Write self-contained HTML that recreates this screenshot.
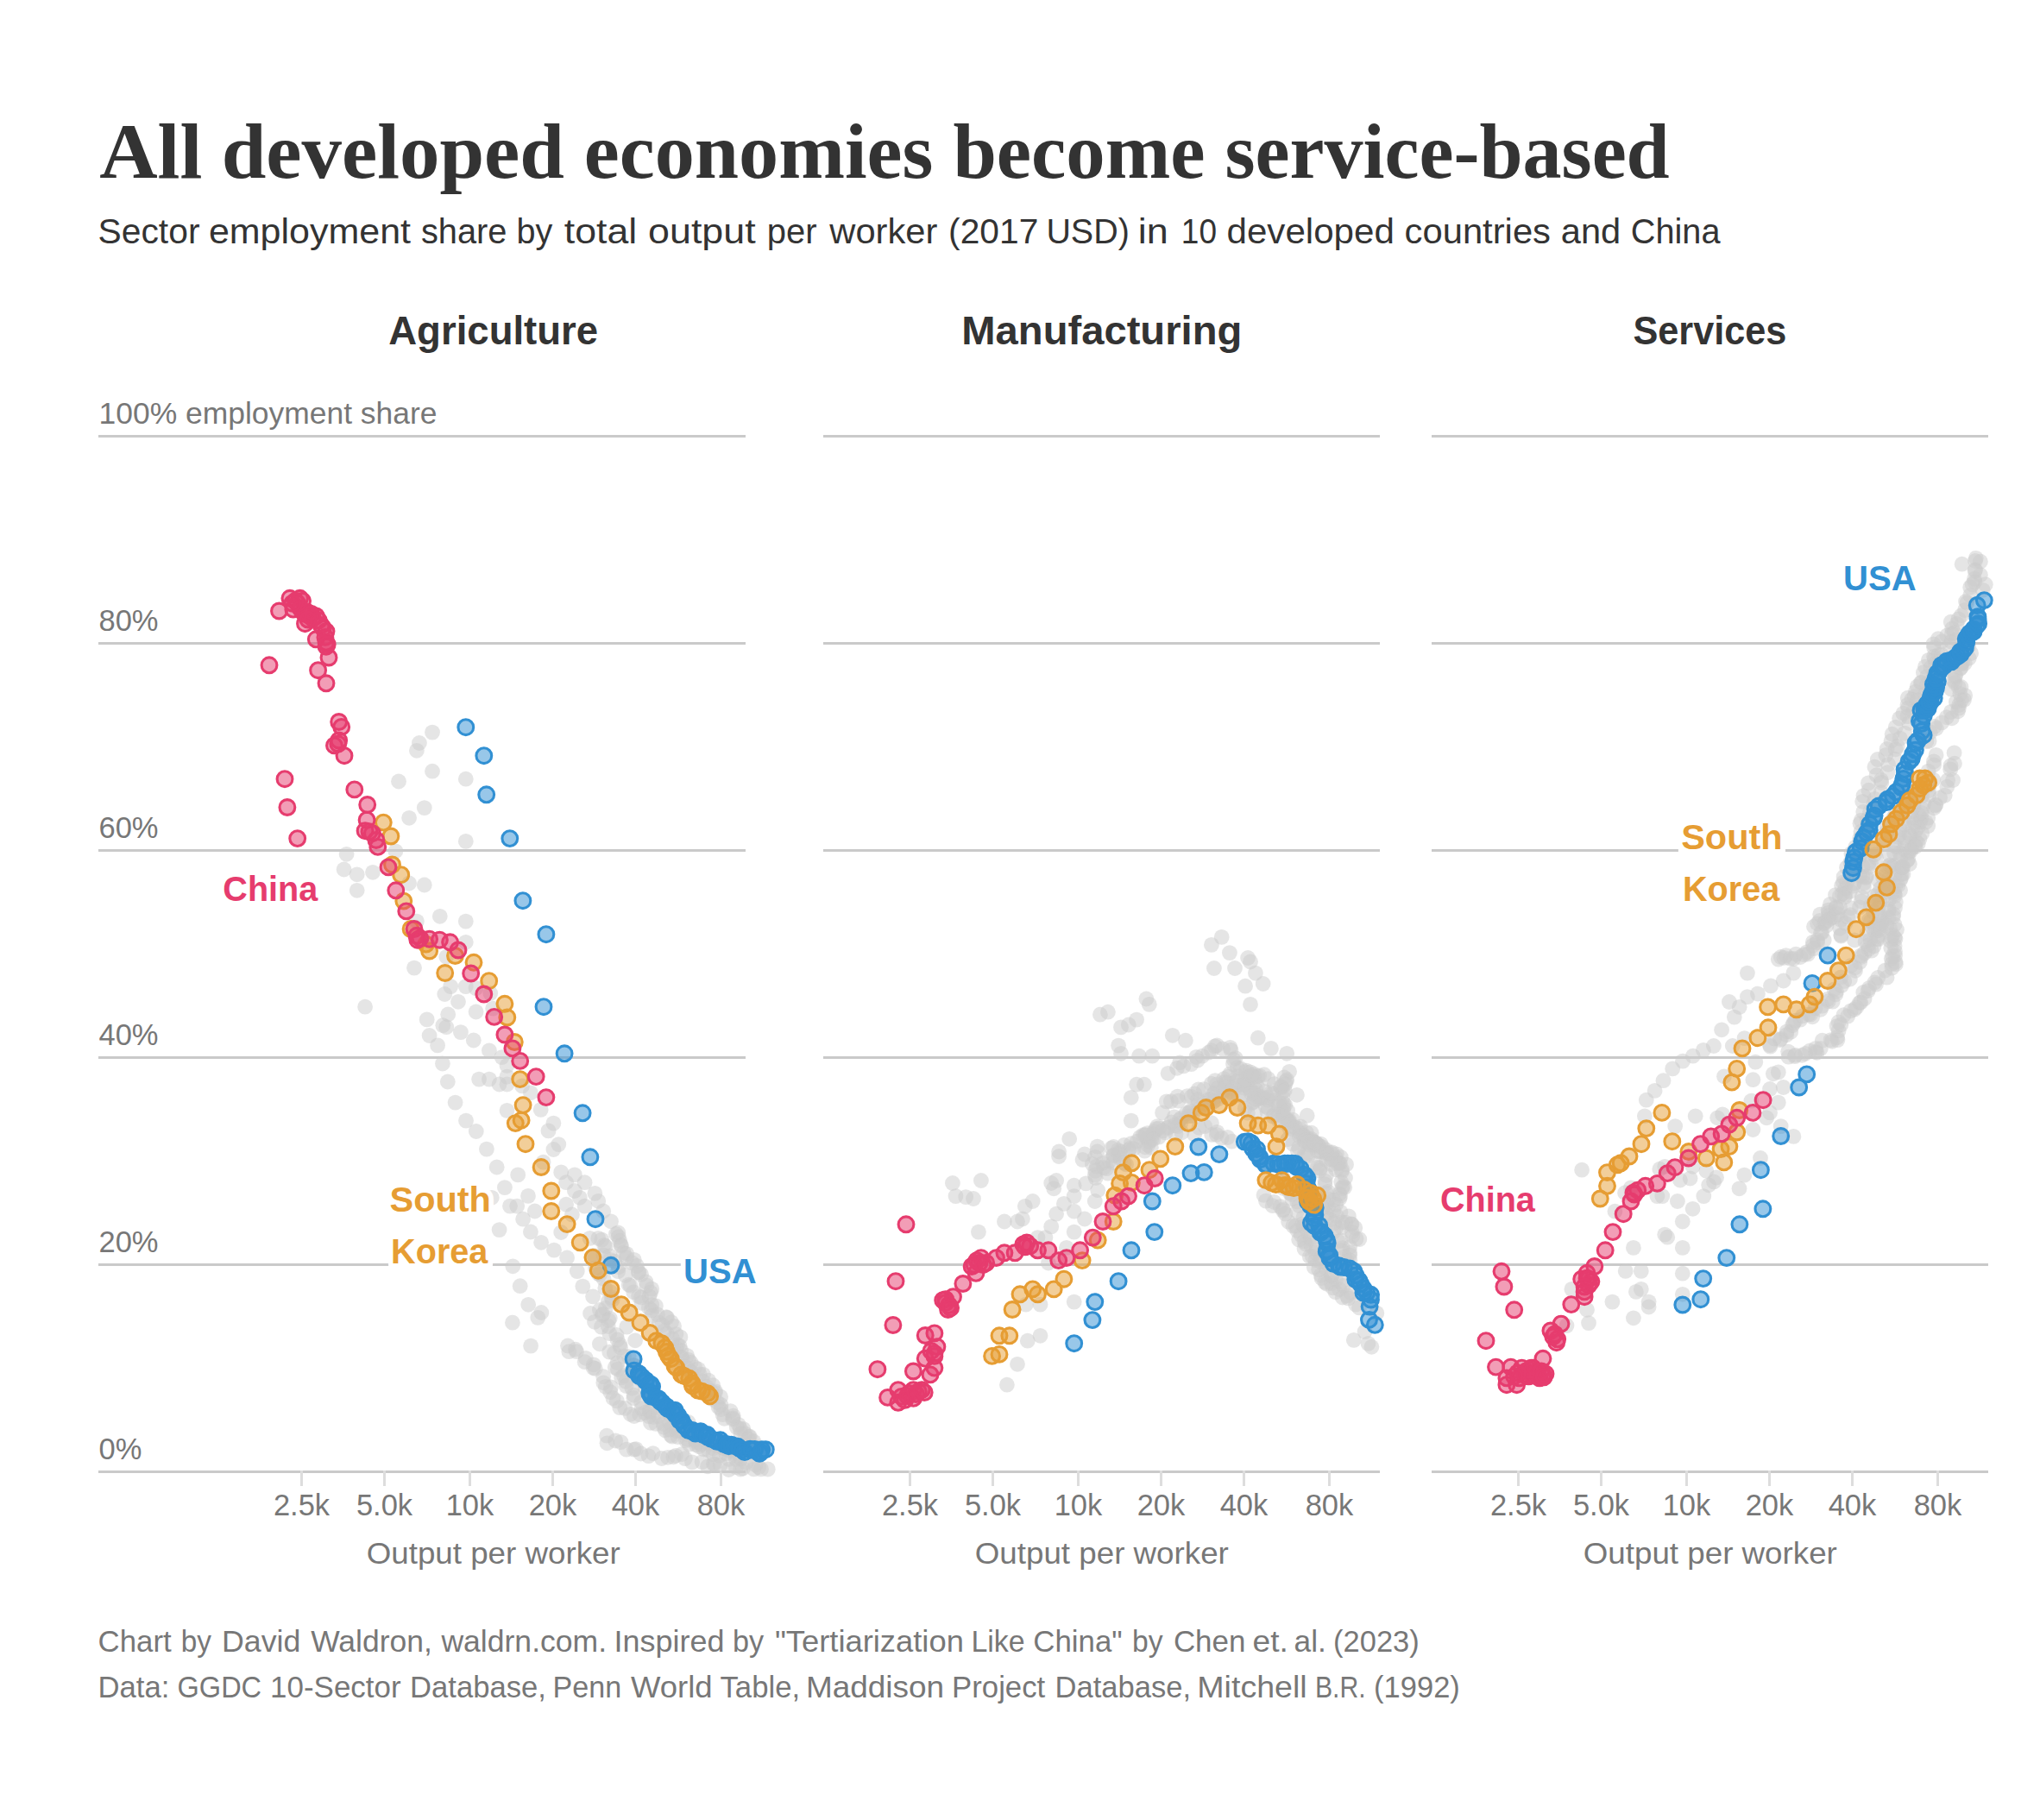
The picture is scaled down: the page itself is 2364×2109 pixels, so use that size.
<!DOCTYPE html>
<html lang="en"><head><meta charset="utf-8"><title>All developed economies become service-based</title>
<style>html,body{margin:0;padding:0;background:#fff}body{width:2364px;height:2109px;overflow:hidden}svg{display:block}text{white-space:pre}</style></head><body>
<svg width="2364" height="2109" viewBox="0 0 2364 2109">
<rect width="2364" height="2109" fill="#fff"/>
<g stroke="#cacaca" stroke-width="3" fill="none"><line x1="114.0" y1="505.5" x2="864.0" y2="505.5"/><line x1="114.0" y1="745.5" x2="864.0" y2="745.5"/><line x1="114.0" y1="985.5" x2="864.0" y2="985.5"/><line x1="114.0" y1="1225.5" x2="864.0" y2="1225.5"/><line x1="114.0" y1="1465.5" x2="864.0" y2="1465.5"/><line x1="114.0" y1="1705.5" x2="864.0" y2="1705.5"/><line x1="954.0" y1="505.5" x2="1599.0" y2="505.5"/><line x1="954.0" y1="745.5" x2="1599.0" y2="745.5"/><line x1="954.0" y1="985.5" x2="1599.0" y2="985.5"/><line x1="954.0" y1="1225.5" x2="1599.0" y2="1225.5"/><line x1="954.0" y1="1465.5" x2="1599.0" y2="1465.5"/><line x1="954.0" y1="1705.5" x2="1599.0" y2="1705.5"/><line x1="1659.0" y1="505.5" x2="2304.0" y2="505.5"/><line x1="1659.0" y1="745.5" x2="2304.0" y2="745.5"/><line x1="1659.0" y1="985.5" x2="2304.0" y2="985.5"/><line x1="1659.0" y1="1225.5" x2="2304.0" y2="1225.5"/><line x1="1659.0" y1="1465.5" x2="2304.0" y2="1465.5"/><line x1="1659.0" y1="1705.5" x2="2304.0" y2="1705.5"/></g><g stroke="#dddddd" stroke-width="3" fill="none"><line x1="349.5" y1="1704.0" x2="349.5" y2="1722.0"/><line x1="445.5" y1="1704.0" x2="445.5" y2="1722.0"/><line x1="544.5" y1="1704.0" x2="544.5" y2="1722.0"/><line x1="640.5" y1="1704.0" x2="640.5" y2="1722.0"/><line x1="736.5" y1="1704.0" x2="736.5" y2="1722.0"/><line x1="835.5" y1="1704.0" x2="835.5" y2="1722.0"/><line x1="1054.5" y1="1704.0" x2="1054.5" y2="1722.0"/><line x1="1150.5" y1="1704.0" x2="1150.5" y2="1722.0"/><line x1="1249.5" y1="1704.0" x2="1249.5" y2="1722.0"/><line x1="1345.5" y1="1704.0" x2="1345.5" y2="1722.0"/><line x1="1441.5" y1="1704.0" x2="1441.5" y2="1722.0"/><line x1="1540.5" y1="1704.0" x2="1540.5" y2="1722.0"/><line x1="1759.5" y1="1704.0" x2="1759.5" y2="1722.0"/><line x1="1855.5" y1="1704.0" x2="1855.5" y2="1722.0"/><line x1="1954.5" y1="1704.0" x2="1954.5" y2="1722.0"/><line x1="2050.5" y1="1704.0" x2="2050.5" y2="1722.0"/><line x1="2146.5" y1="1704.0" x2="2146.5" y2="1722.0"/><line x1="2245.5" y1="1704.0" x2="2245.5" y2="1722.0"/></g><g fill="#fff"><rect x="450.2" y="1463" width="120.7" height="5"/><rect x="789" y="1463" width="80" height="5"/><rect x="1944.9" y="983" width="124.1" height="5"/></g>
<g fill="#cbcbcb" fill-opacity="0.5"><circle cx="501.0" cy="848.6" r="8.9"/><circle cx="485.9" cy="861.0" r="8.9"/><circle cx="482.9" cy="869.8" r="8.9"/><circle cx="501.0" cy="893.7" r="8.9"/><circle cx="462.0" cy="905.5" r="8.9"/><circle cx="539.8" cy="902.7" r="8.9"/><circle cx="491.8" cy="936.1" r="8.9"/><circle cx="474.1" cy="947.8" r="8.9"/><circle cx="539.8" cy="974.9" r="8.9"/><circle cx="401.6" cy="989.8" r="8.9"/><circle cx="458.4" cy="986.3" r="8.9"/><circle cx="398.6" cy="1007.5" r="8.9"/><circle cx="413.7" cy="1013.3" r="8.9"/><circle cx="432.0" cy="1010.8" r="8.9"/><circle cx="474.1" cy="1023.5" r="8.9"/><circle cx="491.8" cy="1025.5" r="8.9"/><circle cx="413.7" cy="1031.8" r="8.9"/><circle cx="509.8" cy="1061.8" r="8.9"/><circle cx="539.8" cy="1067.6" r="8.9"/><circle cx="482.9" cy="1067.6" r="8.9"/><circle cx="539.8" cy="1091.8" r="8.9"/><circle cx="517.3" cy="1108.8" r="8.9"/><circle cx="480.0" cy="1121.6" r="8.9"/><circle cx="423.1" cy="1166.7" r="8.9"/><circle cx="522.2" cy="1143.1" r="8.9"/><circle cx="539.8" cy="1143.1" r="8.9"/><circle cx="515.3" cy="1152.0" r="8.9"/><circle cx="531.0" cy="1160.8" r="8.9"/><circle cx="551.6" cy="1145.1" r="8.9"/><circle cx="568.2" cy="1151.0" r="8.9"/><circle cx="551.6" cy="1172.5" r="8.9"/><circle cx="519.2" cy="1175.5" r="8.9"/><circle cx="494.7" cy="1181.4" r="8.9"/><circle cx="513.3" cy="1188.2" r="8.9"/><circle cx="517.3" cy="1190.2" r="8.9"/><circle cx="533.9" cy="1196.1" r="8.9"/><circle cx="497.6" cy="1200.0" r="8.9"/><circle cx="571.2" cy="1168.6" r="8.9"/><circle cx="507.1" cy="1211.4" r="8.9"/><circle cx="512.9" cy="1232.5" r="8.9"/><circle cx="518.8" cy="1253.5" r="8.9"/><circle cx="527.6" cy="1277.6" r="8.9"/><circle cx="540.0" cy="1298.6" r="8.9"/><circle cx="551.8" cy="1311.0" r="8.9"/><circle cx="563.9" cy="1331.6" r="8.9"/><circle cx="575.7" cy="1352.5" r="8.9"/><circle cx="584.9" cy="1376.1" r="8.9"/><circle cx="591.0" cy="1397.6" r="8.9"/><circle cx="606.1" cy="1412.7" r="8.9"/><circle cx="614.9" cy="1427.5" r="8.9"/><circle cx="627.1" cy="1439.8" r="8.9"/><circle cx="642.0" cy="1448.6" r="8.9"/><circle cx="657.1" cy="1457.5" r="8.9"/><circle cx="668.8" cy="1473.1" r="8.9"/><circle cx="548.8" cy="1205.5" r="8.9"/><circle cx="566.9" cy="1217.3" r="8.9"/><circle cx="581.6" cy="1225.1" r="8.9"/><circle cx="587.5" cy="1234.9" r="8.9"/><circle cx="555.1" cy="1250.6" r="8.9"/><circle cx="566.9" cy="1250.6" r="8.9"/><circle cx="578.6" cy="1256.5" r="8.9"/><circle cx="587.5" cy="1247.6" r="8.9"/><circle cx="587.5" cy="1256.5" r="8.9"/><circle cx="605.1" cy="1258.4" r="8.9"/><circle cx="614.9" cy="1266.3" r="8.9"/><circle cx="626.7" cy="1285.9" r="8.9"/><circle cx="587.5" cy="1286.9" r="8.9"/><circle cx="641.4" cy="1301.6" r="8.9"/><circle cx="635.5" cy="1310.4" r="8.9"/><circle cx="647.3" cy="1326.1" r="8.9"/><circle cx="641.4" cy="1332.0" r="8.9"/><circle cx="629.6" cy="1346.7" r="8.9"/><circle cx="650.2" cy="1358.4" r="8.9"/><circle cx="665.9" cy="1361.4" r="8.9"/><circle cx="656.1" cy="1370.2" r="8.9"/><circle cx="677.6" cy="1370.2" r="8.9"/><circle cx="665.9" cy="1380.0" r="8.9"/><circle cx="689.4" cy="1382.9" r="8.9"/><circle cx="671.8" cy="1387.8" r="8.9"/><circle cx="693.3" cy="1391.8" r="8.9"/><circle cx="656.1" cy="1395.7" r="8.9"/><circle cx="677.6" cy="1397.6" r="8.9"/><circle cx="699.2" cy="1403.5" r="8.9"/><circle cx="662.9" cy="1407.5" r="8.9"/><circle cx="708.0" cy="1415.3" r="8.9"/><circle cx="713.9" cy="1430.0" r="8.9"/><circle cx="719.8" cy="1442.7" r="8.9"/><circle cx="722.7" cy="1451.6" r="8.9"/><circle cx="732.5" cy="1463.3" r="8.9"/><circle cx="740.4" cy="1474.1" r="8.9"/><circle cx="693.3" cy="1434.9" r="8.9"/><circle cx="699.2" cy="1454.5" r="8.9"/><circle cx="683.5" cy="1434.9" r="8.9"/><circle cx="650.2" cy="1428.0" r="8.9"/><circle cx="600.2" cy="1361.4" r="8.9"/><circle cx="612.0" cy="1385.9" r="8.9"/><circle cx="599.2" cy="1397.6" r="8.9"/><circle cx="619.8" cy="1403.5" r="8.9"/><circle cx="578.6" cy="1425.1" r="8.9"/><circle cx="594.3" cy="1467.3" r="8.9"/><circle cx="569.8" cy="1387.8" r="8.9"/><circle cx="602.7" cy="1490.2" r="8.9"/><circle cx="675.3" cy="1490.6" r="8.9"/><circle cx="687.1" cy="1502.4" r="8.9"/><circle cx="612.2" cy="1511.8" r="8.9"/><circle cx="627.3" cy="1521.0" r="8.9"/><circle cx="623.3" cy="1526.9" r="8.9"/><circle cx="593.9" cy="1532.7" r="8.9"/><circle cx="684.1" cy="1522.0" r="8.9"/><circle cx="694.9" cy="1518.0" r="8.9"/><circle cx="689.0" cy="1531.8" r="8.9"/><circle cx="696.9" cy="1537.6" r="8.9"/><circle cx="615.1" cy="1559.6" r="8.9"/><circle cx="706.7" cy="1527.8" r="8.9"/><circle cx="726.3" cy="1537.6" r="8.9"/><circle cx="736.1" cy="1553.3" r="8.9"/><circle cx="694.9" cy="1557.3" r="8.9"/><circle cx="703.1" cy="1663.7" r="8.9"/><circle cx="703.5" cy="1672.3" r="8.9"/><circle cx="713.2" cy="1669.5" r="8.9"/><circle cx="719.5" cy="1671.1" r="8.9"/><circle cx="725.9" cy="1679.7" r="8.9"/><circle cx="734.8" cy="1679.6" r="8.9"/><circle cx="737.0" cy="1679.1" r="8.9"/><circle cx="742.7" cy="1684.5" r="8.9"/><circle cx="751.5" cy="1687.1" r="8.9"/><circle cx="756.7" cy="1684.1" r="8.9"/><circle cx="766.8" cy="1690.0" r="8.9"/><circle cx="773.9" cy="1688.8" r="8.9"/><circle cx="780.4" cy="1688.3" r="8.9"/><circle cx="783.0" cy="1686.8" r="8.9"/><circle cx="790.2" cy="1685.1" r="8.9"/><circle cx="793.9" cy="1690.1" r="8.9"/><circle cx="802.1" cy="1694.4" r="8.9"/><circle cx="813.6" cy="1694.1" r="8.9"/><circle cx="820.1" cy="1699.3" r="8.9"/><circle cx="826.8" cy="1696.3" r="8.9"/><circle cx="828.3" cy="1696.7" r="8.9"/><circle cx="834.8" cy="1697.6" r="8.9"/><circle cx="844.5" cy="1703.0" r="8.9"/><circle cx="852.8" cy="1700.2" r="8.9"/><circle cx="858.2" cy="1702.5" r="8.9"/><circle cx="861.0" cy="1701.5" r="8.9"/><circle cx="873.6" cy="1702.4" r="8.9"/><circle cx="879.2" cy="1700.2" r="8.9"/><circle cx="882.0" cy="1702.4" r="8.9"/><circle cx="889.8" cy="1702.5" r="8.9"/><circle cx="658.0" cy="1559.5" r="8.9"/><circle cx="659.3" cy="1566.2" r="8.9"/><circle cx="666.9" cy="1563.7" r="8.9"/><circle cx="668.1" cy="1566.2" r="8.9"/><circle cx="678.8" cy="1573.8" r="8.9"/><circle cx="677.7" cy="1578.2" r="8.9"/><circle cx="687.9" cy="1581.3" r="8.9"/><circle cx="687.5" cy="1585.0" r="8.9"/><circle cx="689.8" cy="1585.9" r="8.9"/><circle cx="699.2" cy="1595.2" r="8.9"/><circle cx="699.3" cy="1602.3" r="8.9"/><circle cx="701.9" cy="1607.0" r="8.9"/><circle cx="707.9" cy="1607.5" r="8.9"/><circle cx="707.2" cy="1613.1" r="8.9"/><circle cx="710.5" cy="1620.2" r="8.9"/><circle cx="714.8" cy="1623.4" r="8.9"/><circle cx="718.2" cy="1631.1" r="8.9"/><circle cx="724.3" cy="1631.9" r="8.9"/><circle cx="730.6" cy="1638.8" r="8.9"/><circle cx="734.9" cy="1641.0" r="8.9"/><circle cx="741.4" cy="1639.2" r="8.9"/><circle cx="747.3" cy="1637.0" r="8.9"/><circle cx="751.9" cy="1641.3" r="8.9"/><circle cx="754.0" cy="1648.8" r="8.9"/><circle cx="760.2" cy="1649.9" r="8.9"/><circle cx="769.1" cy="1653.8" r="8.9"/><circle cx="771.0" cy="1657.4" r="8.9"/><circle cx="777.2" cy="1663.1" r="8.9"/><circle cx="779.1" cy="1664.7" r="8.9"/><circle cx="785.7" cy="1665.1" r="8.9"/><circle cx="794.9" cy="1669.1" r="8.9"/><circle cx="798.8" cy="1673.6" r="8.9"/><circle cx="806.7" cy="1674.1" r="8.9"/><circle cx="810.3" cy="1676.3" r="8.9"/><circle cx="815.4" cy="1679.3" r="8.9"/><circle cx="820.8" cy="1680.1" r="8.9"/><circle cx="826.6" cy="1685.0" r="8.9"/><circle cx="833.8" cy="1686.7" r="8.9"/><circle cx="841.3" cy="1684.2" r="8.9"/><circle cx="844.4" cy="1690.8" r="8.9"/><circle cx="852.1" cy="1686.8" r="8.9"/><circle cx="852.9" cy="1690.6" r="8.9"/><circle cx="858.5" cy="1690.3" r="8.9"/><circle cx="864.4" cy="1694.5" r="8.9"/><circle cx="875.3" cy="1697.3" r="8.9"/><circle cx="706.2" cy="1566.6" r="8.9"/><circle cx="711.9" cy="1568.0" r="8.9"/><circle cx="715.6" cy="1579.2" r="8.9"/><circle cx="712.8" cy="1584.6" r="8.9"/><circle cx="715.9" cy="1586.8" r="8.9"/><circle cx="723.0" cy="1594.2" r="8.9"/><circle cx="720.2" cy="1596.4" r="8.9"/><circle cx="725.3" cy="1600.9" r="8.9"/><circle cx="725.6" cy="1606.0" r="8.9"/><circle cx="732.4" cy="1608.8" r="8.9"/><circle cx="734.5" cy="1616.6" r="8.9"/><circle cx="734.4" cy="1620.2" r="8.9"/><circle cx="743.2" cy="1625.1" r="8.9"/><circle cx="743.8" cy="1632.1" r="8.9"/><circle cx="753.3" cy="1635.7" r="8.9"/><circle cx="752.9" cy="1634.6" r="8.9"/><circle cx="756.9" cy="1641.9" r="8.9"/><circle cx="763.1" cy="1640.9" r="8.9"/><circle cx="768.8" cy="1649.8" r="8.9"/><circle cx="776.3" cy="1648.7" r="8.9"/><circle cx="776.4" cy="1656.5" r="8.9"/><circle cx="784.3" cy="1658.1" r="8.9"/><circle cx="785.9" cy="1656.7" r="8.9"/><circle cx="795.2" cy="1661.8" r="8.9"/><circle cx="796.3" cy="1667.6" r="8.9"/><circle cx="805.6" cy="1668.8" r="8.9"/><circle cx="807.2" cy="1671.3" r="8.9"/><circle cx="812.4" cy="1673.5" r="8.9"/><circle cx="820.5" cy="1672.0" r="8.9"/><circle cx="826.6" cy="1678.3" r="8.9"/><circle cx="830.1" cy="1674.8" r="8.9"/><circle cx="837.4" cy="1677.4" r="8.9"/><circle cx="840.0" cy="1678.7" r="8.9"/><circle cx="845.1" cy="1680.8" r="8.9"/><circle cx="852.4" cy="1683.3" r="8.9"/><circle cx="716.3" cy="1428.3" r="8.9"/><circle cx="716.8" cy="1433.3" r="8.9"/><circle cx="718.1" cy="1438.0" r="8.9"/><circle cx="719.7" cy="1443.7" r="8.9"/><circle cx="726.2" cy="1452.8" r="8.9"/><circle cx="726.0" cy="1457.4" r="8.9"/><circle cx="734.8" cy="1459.8" r="8.9"/><circle cx="738.0" cy="1466.9" r="8.9"/><circle cx="739.8" cy="1474.4" r="8.9"/><circle cx="743.1" cy="1476.9" r="8.9"/><circle cx="748.5" cy="1485.4" r="8.9"/><circle cx="749.4" cy="1489.7" r="8.9"/><circle cx="755.2" cy="1493.6" r="8.9"/><circle cx="754.0" cy="1497.7" r="8.9"/><circle cx="752.4" cy="1502.4" r="8.9"/><circle cx="755.3" cy="1512.1" r="8.9"/><circle cx="759.9" cy="1513.3" r="8.9"/><circle cx="762.0" cy="1523.4" r="8.9"/><circle cx="772.1" cy="1526.2" r="8.9"/><circle cx="773.0" cy="1526.9" r="8.9"/><circle cx="778.0" cy="1532.2" r="8.9"/><circle cx="781.1" cy="1536.8" r="8.9"/><circle cx="783.4" cy="1546.1" r="8.9"/><circle cx="788.4" cy="1549.4" r="8.9"/><circle cx="785.2" cy="1558.3" r="8.9"/><circle cx="787.6" cy="1559.9" r="8.9"/><circle cx="789.1" cy="1565.1" r="8.9"/><circle cx="796.1" cy="1570.9" r="8.9"/><circle cx="798.0" cy="1575.9" r="8.9"/><circle cx="800.6" cy="1579.0" r="8.9"/><circle cx="805.3" cy="1584.6" r="8.9"/><circle cx="809.1" cy="1586.6" r="8.9"/><circle cx="815.0" cy="1592.8" r="8.9"/><circle cx="821.0" cy="1599.6" r="8.9"/><circle cx="826.2" cy="1605.2" r="8.9"/><circle cx="828.9" cy="1612.1" r="8.9"/><circle cx="828.8" cy="1614.1" r="8.9"/><circle cx="835.1" cy="1618.7" r="8.9"/><circle cx="835.4" cy="1628.0" r="8.9"/><circle cx="835.4" cy="1633.1" r="8.9"/><circle cx="846.5" cy="1635.1" r="8.9"/><circle cx="849.8" cy="1640.7" r="8.9"/><circle cx="849.5" cy="1643.5" r="8.9"/><circle cx="855.7" cy="1650.8" r="8.9"/><circle cx="861.3" cy="1655.9" r="8.9"/><circle cx="863.3" cy="1661.4" r="8.9"/><circle cx="867.9" cy="1664.9" r="8.9"/><circle cx="868.9" cy="1664.7" r="8.9"/><circle cx="873.4" cy="1670.5" r="8.9"/><circle cx="878.4" cy="1677.3" r="8.9"/><circle cx="697.3" cy="1436.6" r="8.9"/><circle cx="700.2" cy="1443.0" r="8.9"/><circle cx="701.8" cy="1444.2" r="8.9"/><circle cx="706.5" cy="1455.4" r="8.9"/><circle cx="707.0" cy="1459.9" r="8.9"/><circle cx="712.2" cy="1461.7" r="8.9"/><circle cx="716.8" cy="1468.1" r="8.9"/><circle cx="716.2" cy="1473.2" r="8.9"/><circle cx="724.8" cy="1477.9" r="8.9"/><circle cx="728.6" cy="1488.7" r="8.9"/><circle cx="730.6" cy="1489.8" r="8.9"/><circle cx="734.2" cy="1497.3" r="8.9"/><circle cx="740.1" cy="1502.1" r="8.9"/><circle cx="743.1" cy="1503.5" r="8.9"/><circle cx="743.5" cy="1509.9" r="8.9"/><circle cx="751.8" cy="1515.3" r="8.9"/><circle cx="754.9" cy="1518.2" r="8.9"/><circle cx="755.6" cy="1524.9" r="8.9"/><circle cx="763.9" cy="1532.9" r="8.9"/><circle cx="767.4" cy="1535.7" r="8.9"/><circle cx="769.7" cy="1542.4" r="8.9"/><circle cx="772.8" cy="1545.5" r="8.9"/><circle cx="779.2" cy="1551.6" r="8.9"/><circle cx="783.3" cy="1562.2" r="8.9"/><circle cx="780.2" cy="1564.3" r="8.9"/><circle cx="789.5" cy="1573.2" r="8.9"/><circle cx="790.7" cy="1573.6" r="8.9"/><circle cx="792.7" cy="1583.7" r="8.9"/><circle cx="797.0" cy="1586.1" r="8.9"/><circle cx="800.8" cy="1590.5" r="8.9"/><circle cx="810.8" cy="1592.7" r="8.9"/><circle cx="813.9" cy="1600.4" r="8.9"/><circle cx="818.5" cy="1606.8" r="8.9"/><circle cx="817.9" cy="1613.3" r="8.9"/><circle cx="823.8" cy="1612.2" r="8.9"/><circle cx="824.2" cy="1620.8" r="8.9"/><circle cx="831.0" cy="1624.8" r="8.9"/><circle cx="832.6" cy="1630.4" r="8.9"/><circle cx="837.6" cy="1639.2" r="8.9"/><circle cx="839.3" cy="1643.8" r="8.9"/><circle cx="849.1" cy="1644.6" r="8.9"/><circle cx="853.7" cy="1653.9" r="8.9"/><circle cx="857.8" cy="1655.8" r="8.9"/><circle cx="858.4" cy="1661.4" r="8.9"/><circle cx="867.0" cy="1667.7" r="8.9"/><circle cx="688.0" cy="1454.8" r="8.9"/><circle cx="689.4" cy="1458.0" r="8.9"/><circle cx="690.1" cy="1469.3" r="8.9"/><circle cx="693.3" cy="1475.8" r="8.9"/><circle cx="695.0" cy="1476.9" r="8.9"/><circle cx="699.6" cy="1481.9" r="8.9"/><circle cx="701.3" cy="1492.8" r="8.9"/><circle cx="707.7" cy="1497.2" r="8.9"/><circle cx="708.6" cy="1503.4" r="8.9"/><circle cx="709.6" cy="1506.2" r="8.9"/><circle cx="704.9" cy="1508.0" r="8.9"/><circle cx="701.8" cy="1516.0" r="8.9"/><circle cx="698.8" cy="1522.7" r="8.9"/><circle cx="697.9" cy="1524.0" r="8.9"/><circle cx="705.2" cy="1530.0" r="8.9"/><circle cx="704.7" cy="1537.0" r="8.9"/><circle cx="706.4" cy="1545.2" r="8.9"/><circle cx="714.4" cy="1547.0" r="8.9"/><circle cx="715.5" cy="1552.5" r="8.9"/><circle cx="718.2" cy="1558.2" r="8.9"/><circle cx="719.1" cy="1561.5" r="8.9"/><circle cx="723.1" cy="1571.6" r="8.9"/><circle cx="728.7" cy="1571.8" r="8.9"/><circle cx="734.6" cy="1582.6" r="8.9"/><circle cx="734.4" cy="1581.9" r="8.9"/><circle cx="735.8" cy="1586.9" r="8.9"/><circle cx="740.0" cy="1592.1" r="8.9"/><circle cx="742.4" cy="1598.5" r="8.9"/><circle cx="747.9" cy="1608.2" r="8.9"/><circle cx="752.3" cy="1610.1" r="8.9"/><circle cx="753.1" cy="1616.2" r="8.9"/><circle cx="756.0" cy="1620.1" r="8.9"/><circle cx="757.1" cy="1624.8" r="8.9"/><circle cx="768.1" cy="1627.8" r="8.9"/><circle cx="769.4" cy="1635.4" r="8.9"/><circle cx="776.6" cy="1636.5" r="8.9"/><circle cx="777.5" cy="1640.1" r="8.9"/><circle cx="783.7" cy="1644.7" r="8.9"/><circle cx="792.8" cy="1650.7" r="8.9"/><circle cx="797.5" cy="1648.0" r="8.9"/><circle cx="1103.9" cy="1371.0" r="8.9"/><circle cx="1136.9" cy="1368.0" r="8.9"/><circle cx="1107.5" cy="1386.1" r="8.9"/><circle cx="1119.2" cy="1387.1" r="8.9"/><circle cx="1128.0" cy="1389.0" r="8.9"/><circle cx="1133.9" cy="1427.6" r="8.9"/><circle cx="1163.9" cy="1415.5" r="8.9"/><circle cx="1179.0" cy="1415.5" r="8.9"/><circle cx="1184.9" cy="1412.5" r="8.9"/><circle cx="1187.8" cy="1397.8" r="8.9"/><circle cx="1196.7" cy="1392.0" r="8.9"/><circle cx="1218.2" cy="1371.0" r="8.9"/><circle cx="1224.1" cy="1368.0" r="8.9"/><circle cx="1221.2" cy="1377.3" r="8.9"/><circle cx="1244.7" cy="1373.7" r="8.9"/><circle cx="1244.7" cy="1386.1" r="8.9"/><circle cx="1232.9" cy="1394.9" r="8.9"/><circle cx="1224.1" cy="1406.7" r="8.9"/><circle cx="1244.7" cy="1403.7" r="8.9"/><circle cx="1218.2" cy="1421.4" r="8.9"/><circle cx="1256.9" cy="1412.5" r="8.9"/><circle cx="1202.5" cy="1434.1" r="8.9"/><circle cx="1211.4" cy="1434.1" r="8.9"/><circle cx="1244.7" cy="1427.6" r="8.9"/><circle cx="1235.9" cy="1445.9" r="8.9"/><circle cx="1214.9" cy="1463.5" r="8.9"/><circle cx="1244.7" cy="1508.6" r="8.9"/><circle cx="1188.8" cy="1511.6" r="8.9"/><circle cx="1205.5" cy="1511.6" r="8.9"/><circle cx="1205.5" cy="1547.8" r="8.9"/><circle cx="1190.8" cy="1553.7" r="8.9"/><circle cx="1179.0" cy="1580.8" r="8.9"/><circle cx="1166.9" cy="1604.7" r="8.9"/><circle cx="1268.8" cy="1361.6" r="8.9"/><circle cx="1258.4" cy="1371.4" r="8.9"/><circle cx="1272.2" cy="1379.2" r="8.9"/><circle cx="1268.8" cy="1392.0" r="8.9"/><circle cx="1283.9" cy="1359.6" r="8.9"/><circle cx="1254.5" cy="1343.9" r="8.9"/><circle cx="1227.1" cy="1340.0" r="8.9"/><circle cx="1278.0" cy="1347.8" r="8.9"/><circle cx="1415.7" cy="1085.9" r="8.9"/><circle cx="1403.9" cy="1094.9" r="8.9"/><circle cx="1424.9" cy="1104.1" r="8.9"/><circle cx="1446.1" cy="1110.0" r="8.9"/><circle cx="1449.0" cy="1114.5" r="8.9"/><circle cx="1406.9" cy="1122.0" r="8.9"/><circle cx="1431.0" cy="1122.0" r="8.9"/><circle cx="1454.9" cy="1127.6" r="8.9"/><circle cx="1463.7" cy="1140.0" r="8.9"/><circle cx="1443.1" cy="1142.7" r="8.9"/><circle cx="1449.0" cy="1163.9" r="8.9"/><circle cx="1328.4" cy="1157.5" r="8.9"/><circle cx="1331.8" cy="1163.9" r="8.9"/><circle cx="1274.9" cy="1175.7" r="8.9"/><circle cx="1283.9" cy="1172.7" r="8.9"/><circle cx="1299.0" cy="1190.4" r="8.9"/><circle cx="1307.8" cy="1187.5" r="8.9"/><circle cx="1317.1" cy="1181.6" r="8.9"/><circle cx="1296.1" cy="1211.6" r="8.9"/><circle cx="1299.0" cy="1220.8" r="8.9"/><circle cx="1320.0" cy="1223.7" r="8.9"/><circle cx="1335.3" cy="1223.7" r="8.9"/><circle cx="1358.8" cy="1199.8" r="8.9"/><circle cx="1373.9" cy="1205.7" r="8.9"/><circle cx="1457.8" cy="1202.7" r="8.9"/><circle cx="1472.9" cy="1214.9" r="8.9"/><circle cx="1491.2" cy="1220.8" r="8.9"/><circle cx="1494.1" cy="1241.8" r="8.9"/><circle cx="1491.2" cy="1251.2" r="8.9"/><circle cx="1502.9" cy="1268.8" r="8.9"/><circle cx="1514.7" cy="1292.7" r="8.9"/><circle cx="1317.1" cy="1256.7" r="8.9"/><circle cx="1325.9" cy="1256.7" r="8.9"/><circle cx="1310.8" cy="1271.8" r="8.9"/><circle cx="1310.8" cy="1298.6" r="8.9"/><circle cx="1347.1" cy="1289.4" r="8.9"/><circle cx="1341.2" cy="1305.1" r="8.9"/><circle cx="1352.9" cy="1307.1" r="8.9"/><circle cx="1364.7" cy="1305.1" r="8.9"/><circle cx="1329.4" cy="1318.8" r="8.9"/><circle cx="1317.6" cy="1322.7" r="8.9"/><circle cx="1309.8" cy="1330.6" r="8.9"/><circle cx="1298.0" cy="1334.5" r="8.9"/><circle cx="1290.2" cy="1338.4" r="8.9"/><circle cx="1239.2" cy="1319.8" r="8.9"/><circle cx="1227.1" cy="1334.5" r="8.9"/><circle cx="1256.9" cy="1337.5" r="8.9"/><circle cx="1271.6" cy="1328.6" r="8.9"/><circle cx="1271.6" cy="1334.5" r="8.9"/><circle cx="1282.4" cy="1354.1" r="8.9"/><circle cx="1403.9" cy="1301.2" r="8.9"/><circle cx="1396.1" cy="1305.1" r="8.9"/><circle cx="1409.8" cy="1314.9" r="8.9"/><circle cx="1415.7" cy="1318.8" r="8.9"/><circle cx="1427.5" cy="1322.7" r="8.9"/><circle cx="1353.6" cy="1243.8" r="8.9"/><circle cx="1364.0" cy="1237.8" r="8.9"/><circle cx="1367.2" cy="1231.3" r="8.9"/><circle cx="1371.5" cy="1235.4" r="8.9"/><circle cx="1380.4" cy="1233.1" r="8.9"/><circle cx="1387.7" cy="1228.8" r="8.9"/><circle cx="1386.3" cy="1224.8" r="8.9"/><circle cx="1393.2" cy="1223.7" r="8.9"/><circle cx="1400.5" cy="1219.7" r="8.9"/><circle cx="1404.0" cy="1217.2" r="8.9"/><circle cx="1407.9" cy="1212.4" r="8.9"/><circle cx="1410.2" cy="1211.4" r="8.9"/><circle cx="1417.0" cy="1215.5" r="8.9"/><circle cx="1425.5" cy="1213.8" r="8.9"/><circle cx="1426.4" cy="1217.0" r="8.9"/><circle cx="1431.7" cy="1226.1" r="8.9"/><circle cx="1429.5" cy="1227.8" r="8.9"/><circle cx="1433.8" cy="1237.3" r="8.9"/><circle cx="1437.9" cy="1238.5" r="8.9"/><circle cx="1444.4" cy="1240.6" r="8.9"/><circle cx="1446.8" cy="1247.9" r="8.9"/><circle cx="1454.5" cy="1254.6" r="8.9"/><circle cx="1457.0" cy="1258.9" r="8.9"/><circle cx="1455.3" cy="1262.8" r="8.9"/><circle cx="1463.2" cy="1271.6" r="8.9"/><circle cx="1461.4" cy="1272.4" r="8.9"/><circle cx="1466.5" cy="1281.9" r="8.9"/><circle cx="1469.7" cy="1284.0" r="8.9"/><circle cx="1475.2" cy="1293.7" r="8.9"/><circle cx="1476.6" cy="1291.8" r="8.9"/><circle cx="1481.9" cy="1298.7" r="8.9"/><circle cx="1489.0" cy="1301.3" r="8.9"/><circle cx="1494.9" cy="1308.5" r="8.9"/><circle cx="1498.1" cy="1308.3" r="8.9"/><circle cx="1506.5" cy="1312.5" r="8.9"/><circle cx="1510.7" cy="1315.4" r="8.9"/><circle cx="1511.7" cy="1322.5" r="8.9"/><circle cx="1517.7" cy="1326.7" r="8.9"/><circle cx="1524.7" cy="1324.1" r="8.9"/><circle cx="1528.3" cy="1328.6" r="8.9"/><circle cx="1536.5" cy="1336.0" r="8.9"/><circle cx="1537.9" cy="1335.7" r="8.9"/><circle cx="1543.3" cy="1343.6" r="8.9"/><circle cx="1547.6" cy="1341.1" r="8.9"/><circle cx="1551.8" cy="1347.5" r="8.9"/><circle cx="1351.8" cy="1276.4" r="8.9"/><circle cx="1356.9" cy="1276.2" r="8.9"/><circle cx="1364.5" cy="1270.6" r="8.9"/><circle cx="1365.6" cy="1275.6" r="8.9"/><circle cx="1375.8" cy="1270.1" r="8.9"/><circle cx="1380.9" cy="1270.9" r="8.9"/><circle cx="1384.3" cy="1267.3" r="8.9"/><circle cx="1388.7" cy="1262.5" r="8.9"/><circle cx="1395.1" cy="1262.2" r="8.9"/><circle cx="1403.7" cy="1255.7" r="8.9"/><circle cx="1408.1" cy="1252.1" r="8.9"/><circle cx="1410.2" cy="1256.4" r="8.9"/><circle cx="1419.8" cy="1253.6" r="8.9"/><circle cx="1418.3" cy="1250.2" r="8.9"/><circle cx="1423.4" cy="1247.6" r="8.9"/><circle cx="1425.5" cy="1244.4" r="8.9"/><circle cx="1434.1" cy="1247.2" r="8.9"/><circle cx="1434.4" cy="1257.8" r="8.9"/><circle cx="1441.7" cy="1256.5" r="8.9"/><circle cx="1441.5" cy="1260.6" r="8.9"/><circle cx="1452.6" cy="1265.9" r="8.9"/><circle cx="1456.4" cy="1274.3" r="8.9"/><circle cx="1459.1" cy="1272.9" r="8.9"/><circle cx="1468.9" cy="1274.5" r="8.9"/><circle cx="1469.3" cy="1271.7" r="8.9"/><circle cx="1474.8" cy="1267.6" r="8.9"/><circle cx="1477.6" cy="1274.9" r="8.9"/><circle cx="1487.7" cy="1278.7" r="8.9"/><circle cx="1489.3" cy="1280.6" r="8.9"/><circle cx="1486.2" cy="1289.8" r="8.9"/><circle cx="1494.3" cy="1298.7" r="8.9"/><circle cx="1493.3" cy="1299.3" r="8.9"/><circle cx="1498.0" cy="1305.5" r="8.9"/><circle cx="1506.0" cy="1307.8" r="8.9"/><circle cx="1509.9" cy="1315.8" r="8.9"/><circle cx="1515.4" cy="1319.4" r="8.9"/><circle cx="1519.2" cy="1319.6" r="8.9"/><circle cx="1522.4" cy="1323.5" r="8.9"/><circle cx="1530.5" cy="1325.6" r="8.9"/><circle cx="1531.2" cy="1334.3" r="8.9"/><circle cx="1464.9" cy="1245.2" r="8.9"/><circle cx="1469.5" cy="1250.1" r="8.9"/><circle cx="1476.8" cy="1256.2" r="8.9"/><circle cx="1485.4" cy="1260.3" r="8.9"/><circle cx="1483.9" cy="1259.5" r="8.9"/><circle cx="1484.6" cy="1259.5" r="8.9"/><circle cx="1490.4" cy="1253.1" r="8.9"/><circle cx="1488.1" cy="1248.5" r="8.9"/><circle cx="1489.3" cy="1256.4" r="8.9"/><circle cx="1488.7" cy="1263.6" r="8.9"/><circle cx="1486.6" cy="1264.6" r="8.9"/><circle cx="1486.3" cy="1271.9" r="8.9"/><circle cx="1482.9" cy="1278.5" r="8.9"/><circle cx="1487.4" cy="1282.5" r="8.9"/><circle cx="1487.4" cy="1288.0" r="8.9"/><circle cx="1490.9" cy="1297.2" r="8.9"/><circle cx="1498.2" cy="1297.7" r="8.9"/><circle cx="1501.4" cy="1306.7" r="8.9"/><circle cx="1507.0" cy="1305.4" r="8.9"/><circle cx="1513.9" cy="1312.3" r="8.9"/><circle cx="1519.7" cy="1312.7" r="8.9"/><circle cx="1520.5" cy="1322.2" r="8.9"/><circle cx="1527.7" cy="1327.1" r="8.9"/><circle cx="1527.0" cy="1326.6" r="8.9"/><circle cx="1532.6" cy="1329.5" r="8.9"/><circle cx="1543.9" cy="1335.5" r="8.9"/><circle cx="1548.9" cy="1337.3" r="8.9"/><circle cx="1553.8" cy="1341.0" r="8.9"/><circle cx="1552.9" cy="1348.3" r="8.9"/><circle cx="1560.0" cy="1349.4" r="8.9"/><circle cx="1290.9" cy="1339.3" r="8.9"/><circle cx="1295.7" cy="1332.9" r="8.9"/><circle cx="1302.6" cy="1327.0" r="8.9"/><circle cx="1310.9" cy="1325.1" r="8.9"/><circle cx="1321.1" cy="1317.7" r="8.9"/><circle cx="1324.7" cy="1315.2" r="8.9"/><circle cx="1337.6" cy="1311.1" r="8.9"/><circle cx="1342.9" cy="1307.4" r="8.9"/><circle cx="1354.2" cy="1305.9" r="8.9"/><circle cx="1357.5" cy="1300.4" r="8.9"/><circle cx="1368.3" cy="1301.3" r="8.9"/><circle cx="1377.5" cy="1293.4" r="8.9"/><circle cx="1381.6" cy="1293.0" r="8.9"/><circle cx="1390.1" cy="1284.5" r="8.9"/><circle cx="1395.9" cy="1283.3" r="8.9"/><circle cx="1401.7" cy="1274.0" r="8.9"/><circle cx="1407.8" cy="1266.3" r="8.9"/><circle cx="1417.6" cy="1264.1" r="8.9"/><circle cx="1421.7" cy="1255.2" r="8.9"/><circle cx="1433.0" cy="1254.0" r="8.9"/><circle cx="1278.9" cy="1353.0" r="8.9"/><circle cx="1290.2" cy="1347.2" r="8.9"/><circle cx="1298.6" cy="1342.5" r="8.9"/><circle cx="1307.9" cy="1333.0" r="8.9"/><circle cx="1313.6" cy="1331.3" r="8.9"/><circle cx="1326.9" cy="1329.3" r="8.9"/><circle cx="1331.9" cy="1322.9" r="8.9"/><circle cx="1342.8" cy="1317.6" r="8.9"/><circle cx="1350.5" cy="1312.4" r="8.9"/><circle cx="1362.5" cy="1314.2" r="8.9"/><circle cx="1369.5" cy="1312.3" r="8.9"/><circle cx="1384.1" cy="1314.8" r="8.9"/><circle cx="1389.5" cy="1306.6" r="8.9"/><circle cx="1404.2" cy="1314.9" r="8.9"/><circle cx="1410.4" cy="1311.8" r="8.9"/><circle cx="1422.6" cy="1318.0" r="8.9"/><circle cx="1265.9" cy="1349.0" r="8.9"/><circle cx="1285.5" cy="1345.1" r="8.9"/><circle cx="1568.8" cy="1552.9" r="8.9"/><circle cx="1585.5" cy="1556.9" r="8.9"/><circle cx="1589.4" cy="1560.8" r="8.9"/><circle cx="1581.6" cy="1543.1" r="8.9"/><circle cx="1595.3" cy="1521.6" r="8.9"/><circle cx="1505.7" cy="1316.8" r="8.9"/><circle cx="1509.0" cy="1316.3" r="8.9"/><circle cx="1512.3" cy="1321.4" r="8.9"/><circle cx="1522.0" cy="1326.8" r="8.9"/><circle cx="1526.6" cy="1334.0" r="8.9"/><circle cx="1528.6" cy="1334.0" r="8.9"/><circle cx="1537.0" cy="1337.3" r="8.9"/><circle cx="1537.1" cy="1344.3" r="8.9"/><circle cx="1542.6" cy="1349.0" r="8.9"/><circle cx="1548.1" cy="1355.3" r="8.9"/><circle cx="1554.8" cy="1357.8" r="8.9"/><circle cx="1559.0" cy="1365.0" r="8.9"/><circle cx="1556.5" cy="1374.8" r="8.9"/><circle cx="1558.2" cy="1375.9" r="8.9"/><circle cx="1552.1" cy="1383.5" r="8.9"/><circle cx="1552.5" cy="1388.8" r="8.9"/><circle cx="1545.5" cy="1390.7" r="8.9"/><circle cx="1539.1" cy="1398.8" r="8.9"/><circle cx="1545.6" cy="1402.7" r="8.9"/><circle cx="1549.2" cy="1409.3" r="8.9"/><circle cx="1555.4" cy="1416.5" r="8.9"/><circle cx="1554.9" cy="1422.2" r="8.9"/><circle cx="1559.4" cy="1416.6" r="8.9"/><circle cx="1565.8" cy="1418.3" r="8.9"/><circle cx="1566.7" cy="1427.8" r="8.9"/><circle cx="1567.4" cy="1432.2" r="8.9"/><circle cx="1571.6" cy="1435.6" r="8.9"/><circle cx="1564.1" cy="1445.0" r="8.9"/><circle cx="1564.1" cy="1451.6" r="8.9"/><circle cx="1564.2" cy="1454.6" r="8.9"/><circle cx="1464.5" cy="1384.9" r="8.9"/><circle cx="1467.0" cy="1391.6" r="8.9"/><circle cx="1476.5" cy="1393.0" r="8.9"/><circle cx="1474.8" cy="1397.2" r="8.9"/><circle cx="1483.6" cy="1398.1" r="8.9"/><circle cx="1487.1" cy="1401.5" r="8.9"/><circle cx="1486.7" cy="1402.9" r="8.9"/><circle cx="1489.6" cy="1406.7" r="8.9"/><circle cx="1493.1" cy="1415.8" r="8.9"/><circle cx="1498.5" cy="1420.6" r="8.9"/><circle cx="1501.5" cy="1420.7" r="8.9"/><circle cx="1503.3" cy="1426.0" r="8.9"/><circle cx="1507.5" cy="1430.9" r="8.9"/><circle cx="1505.2" cy="1436.5" r="8.9"/><circle cx="1511.5" cy="1438.4" r="8.9"/><circle cx="1512.9" cy="1441.5" r="8.9"/><circle cx="1511.5" cy="1447.1" r="8.9"/><circle cx="1517.8" cy="1456.2" r="8.9"/><circle cx="1520.8" cy="1456.0" r="8.9"/><circle cx="1524.5" cy="1460.2" r="8.9"/><circle cx="1522.8" cy="1468.4" r="8.9"/><circle cx="1528.2" cy="1471.2" r="8.9"/><circle cx="1530.7" cy="1477.7" r="8.9"/><circle cx="1531.6" cy="1481.2" r="8.9"/><circle cx="1535.4" cy="1485.9" r="8.9"/><circle cx="1537.6" cy="1487.7" r="8.9"/><circle cx="1543.0" cy="1487.0" r="8.9"/><circle cx="1544.5" cy="1492.3" r="8.9"/><circle cx="1547.6" cy="1497.3" r="8.9"/><circle cx="1552.1" cy="1494.1" r="8.9"/><circle cx="1555.8" cy="1503.5" r="8.9"/><circle cx="1561.0" cy="1501.6" r="8.9"/><circle cx="1562.4" cy="1504.4" r="8.9"/><circle cx="1571.0" cy="1511.6" r="8.9"/><circle cx="1575.1" cy="1515.4" r="8.9"/><circle cx="1492.3" cy="1320.2" r="8.9"/><circle cx="1498.2" cy="1325.7" r="8.9"/><circle cx="1505.2" cy="1330.0" r="8.9"/><circle cx="1503.8" cy="1333.7" r="8.9"/><circle cx="1513.6" cy="1338.1" r="8.9"/><circle cx="1511.8" cy="1336.8" r="8.9"/><circle cx="1515.6" cy="1339.4" r="8.9"/><circle cx="1524.6" cy="1348.7" r="8.9"/><circle cx="1526.7" cy="1352.8" r="8.9"/><circle cx="1529.9" cy="1353.5" r="8.9"/><circle cx="1529.3" cy="1356.6" r="8.9"/><circle cx="1536.8" cy="1361.9" r="8.9"/><circle cx="1535.6" cy="1368.6" r="8.9"/><circle cx="1535.4" cy="1372.5" r="8.9"/><circle cx="1538.6" cy="1380.8" r="8.9"/><circle cx="1537.2" cy="1383.1" r="8.9"/><circle cx="1539.5" cy="1389.5" r="8.9"/><circle cx="1537.1" cy="1395.4" r="8.9"/><circle cx="1532.7" cy="1399.2" r="8.9"/><circle cx="1536.8" cy="1407.0" r="8.9"/><circle cx="1537.6" cy="1411.8" r="8.9"/><circle cx="1541.4" cy="1413.2" r="8.9"/><circle cx="1546.1" cy="1417.2" r="8.9"/><circle cx="1548.2" cy="1422.6" r="8.9"/><circle cx="1545.4" cy="1427.4" r="8.9"/><circle cx="1553.8" cy="1437.4" r="8.9"/><circle cx="1551.0" cy="1438.7" r="8.9"/><circle cx="1555.8" cy="1446.1" r="8.9"/><circle cx="1554.9" cy="1449.3" r="8.9"/><circle cx="1558.0" cy="1456.6" r="8.9"/><circle cx="1560.8" cy="1461.6" r="8.9"/><circle cx="1564.4" cy="1460.7" r="8.9"/><circle cx="1486.9" cy="1364.7" r="8.9"/><circle cx="1485.3" cy="1370.7" r="8.9"/><circle cx="1487.6" cy="1376.9" r="8.9"/><circle cx="1494.5" cy="1382.0" r="8.9"/><circle cx="1496.5" cy="1384.0" r="8.9"/><circle cx="1497.5" cy="1389.4" r="8.9"/><circle cx="1503.3" cy="1392.4" r="8.9"/><circle cx="1505.6" cy="1397.1" r="8.9"/><circle cx="1503.1" cy="1404.0" r="8.9"/><circle cx="1510.4" cy="1410.8" r="8.9"/><circle cx="1509.2" cy="1418.6" r="8.9"/><circle cx="1510.8" cy="1420.7" r="8.9"/><circle cx="1515.4" cy="1427.8" r="8.9"/><circle cx="1519.2" cy="1432.3" r="8.9"/><circle cx="1518.7" cy="1435.2" r="8.9"/><circle cx="1519.7" cy="1444.0" r="8.9"/><circle cx="1525.7" cy="1448.4" r="8.9"/><circle cx="1524.8" cy="1451.4" r="8.9"/><circle cx="1531.5" cy="1457.4" r="8.9"/><circle cx="1529.9" cy="1461.5" r="8.9"/><circle cx="1538.4" cy="1464.6" r="8.9"/><circle cx="1536.7" cy="1469.8" r="8.9"/><circle cx="1543.4" cy="1478.3" r="8.9"/><circle cx="1543.5" cy="1477.6" r="8.9"/><circle cx="1548.1" cy="1482.8" r="8.9"/><circle cx="1554.1" cy="1485.7" r="8.9"/><circle cx="1556.7" cy="1489.9" r="8.9"/><circle cx="1565.3" cy="1497.7" r="8.9"/><circle cx="1516.0" cy="1322.8" r="8.9"/><circle cx="1523.4" cy="1324.3" r="8.9"/><circle cx="1536.9" cy="1332.7" r="8.9"/><circle cx="1542.2" cy="1336.1" r="8.9"/><circle cx="1545.5" cy="1343.5" r="8.9"/><circle cx="1549.6" cy="1348.3" r="8.9"/><circle cx="1555.1" cy="1355.3" r="8.9"/><circle cx="1554.2" cy="1369.8" r="8.9"/><circle cx="1555.1" cy="1376.9" r="8.9"/><circle cx="1553.1" cy="1385.7" r="8.9"/><circle cx="1548.2" cy="1395.8" r="8.9"/><circle cx="1553.5" cy="1404.5" r="8.9"/><circle cx="1562.9" cy="1409.4" r="8.9"/><circle cx="1566.5" cy="1418.7" r="8.9"/><circle cx="1570.3" cy="1422.7" r="8.9"/><circle cx="1575.3" cy="1436.0" r="8.9"/><circle cx="1833.1" cy="1355.7" r="8.9"/><circle cx="1868.4" cy="1508.6" r="8.9"/><circle cx="1841.0" cy="1533.1" r="8.9"/><circle cx="1839.0" cy="1517.8" r="8.9"/><circle cx="1892.9" cy="1445.9" r="8.9"/><circle cx="1892.9" cy="1527.3" r="8.9"/><circle cx="1883.7" cy="1472.9" r="8.9"/><circle cx="1901.8" cy="1472.9" r="8.9"/><circle cx="1895.9" cy="1496.9" r="8.9"/><circle cx="1901.8" cy="1493.9" r="8.9"/><circle cx="1910.6" cy="1508.6" r="8.9"/><circle cx="1910.6" cy="1514.5" r="8.9"/><circle cx="1949.8" cy="1475.7" r="8.9"/><circle cx="1949.8" cy="1499.8" r="8.9"/><circle cx="1949.8" cy="1445.9" r="8.9"/><circle cx="1949.8" cy="1415.5" r="8.9"/><circle cx="1929.2" cy="1430.6" r="8.9"/><circle cx="1932.2" cy="1433.7" r="8.9"/><circle cx="1961.6" cy="1400.8" r="8.9"/><circle cx="1943.9" cy="1392.0" r="8.9"/><circle cx="1920.4" cy="1386.1" r="8.9"/><circle cx="1926.3" cy="1386.1" r="8.9"/><circle cx="1974.3" cy="1386.1" r="8.9"/><circle cx="1980.2" cy="1373.3" r="8.9"/><circle cx="1986.1" cy="1369.4" r="8.9"/><circle cx="2015.5" cy="1377.3" r="8.9"/><circle cx="2021.4" cy="1361.6" r="8.9"/><circle cx="1958.6" cy="1365.5" r="8.9"/><circle cx="1946.9" cy="1367.5" r="8.9"/><circle cx="1961.6" cy="1351.8" r="8.9"/><circle cx="1977.3" cy="1356.7" r="8.9"/><circle cx="1989.0" cy="1364.5" r="8.9"/><circle cx="1923.3" cy="1354.7" r="8.9"/><circle cx="1929.2" cy="1351.8" r="8.9"/><circle cx="1890.0" cy="1376.3" r="8.9"/><circle cx="1883.1" cy="1382.2" r="8.9"/><circle cx="1871.4" cy="1403.7" r="8.9"/><circle cx="1821.4" cy="1493.9" r="8.9"/><circle cx="1815.5" cy="1536.1" r="8.9"/><circle cx="2040.0" cy="1342.0" r="8.9"/><circle cx="1907.8" cy="1274.7" r="8.9"/><circle cx="1917.6" cy="1263.9" r="8.9"/><circle cx="1927.5" cy="1252.2" r="8.9"/><circle cx="1938.2" cy="1238.4" r="8.9"/><circle cx="1950.0" cy="1229.6" r="8.9"/><circle cx="1961.8" cy="1223.7" r="8.9"/><circle cx="1973.9" cy="1216.9" r="8.9"/><circle cx="1985.9" cy="1212.0" r="8.9"/><circle cx="1995.1" cy="1193.3" r="8.9"/><circle cx="2009.8" cy="1178.6" r="8.9"/><circle cx="2003.9" cy="1161.0" r="8.9"/><circle cx="2015.7" cy="1166.9" r="8.9"/><circle cx="2024.9" cy="1155.1" r="8.9"/><circle cx="2036.9" cy="1151.6" r="8.9"/><circle cx="2052.0" cy="1142.4" r="8.9"/><circle cx="2066.7" cy="1136.5" r="8.9"/><circle cx="2078.4" cy="1127.6" r="8.9"/><circle cx="2024.9" cy="1127.6" r="8.9"/><circle cx="2063.7" cy="1109.0" r="8.9"/><circle cx="2069.6" cy="1107.1" r="8.9"/><circle cx="2078.4" cy="1111.0" r="8.9"/><circle cx="2086.3" cy="1109.0" r="8.9"/><circle cx="2094.1" cy="1103.1" r="8.9"/><circle cx="2102.0" cy="1099.2" r="8.9"/><circle cx="2105.9" cy="1089.4" r="8.9"/><circle cx="2113.7" cy="1089.4" r="8.9"/><circle cx="2102.0" cy="1073.7" r="8.9"/><circle cx="2113.7" cy="1069.8" r="8.9"/><circle cx="2121.6" cy="1063.9" r="8.9"/><circle cx="2133.3" cy="1065.9" r="8.9"/><circle cx="2133.3" cy="1083.5" r="8.9"/><circle cx="2149.0" cy="1089.4" r="8.9"/><circle cx="2007.8" cy="1212.0" r="8.9"/><circle cx="2021.6" cy="1203.1" r="8.9"/><circle cx="2034.3" cy="1230.6" r="8.9"/><circle cx="2051.0" cy="1211.0" r="8.9"/><circle cx="2062.7" cy="1205.1" r="8.9"/><circle cx="2070.6" cy="1195.3" r="8.9"/><circle cx="2078.4" cy="1185.5" r="8.9"/><circle cx="2086.3" cy="1181.6" r="8.9"/><circle cx="2098.0" cy="1175.7" r="8.9"/><circle cx="2109.8" cy="1169.8" r="8.9"/><circle cx="2117.6" cy="1158.0" r="8.9"/><circle cx="2125.5" cy="1146.3" r="8.9"/><circle cx="2133.3" cy="1132.5" r="8.9"/><circle cx="2145.1" cy="1118.8" r="8.9"/><circle cx="2156.9" cy="1109.0" r="8.9"/><circle cx="2164.7" cy="1095.3" r="8.9"/><circle cx="2172.5" cy="1079.6" r="8.9"/><circle cx="2180.4" cy="1067.8" r="8.9"/><circle cx="2060.8" cy="1242.4" r="8.9"/><circle cx="2054.9" cy="1244.3" r="8.9"/><circle cx="2072.5" cy="1224.7" r="8.9"/><circle cx="2080.4" cy="1222.7" r="8.9"/><circle cx="2092.2" cy="1220.8" r="8.9"/><circle cx="2103.9" cy="1218.8" r="8.9"/><circle cx="2109.8" cy="1214.9" r="8.9"/><circle cx="2121.6" cy="1205.1" r="8.9"/><circle cx="2129.4" cy="1205.1" r="8.9"/><circle cx="2133.3" cy="1187.5" r="8.9"/><circle cx="2141.2" cy="1177.6" r="8.9"/><circle cx="2149.0" cy="1169.8" r="8.9"/><circle cx="2154.9" cy="1162.0" r="8.9"/><circle cx="2164.7" cy="1148.2" r="8.9"/><circle cx="2172.5" cy="1138.4" r="8.9"/><circle cx="2184.3" cy="1124.7" r="8.9"/><circle cx="2192.2" cy="1116.9" r="8.9"/><circle cx="2196.1" cy="1107.1" r="8.9"/><circle cx="2192.2" cy="1087.5" r="8.9"/><circle cx="2190.2" cy="1075.7" r="8.9"/><circle cx="1905.9" cy="1293.3" r="8.9"/><circle cx="1941.2" cy="1305.1" r="8.9"/><circle cx="1964.7" cy="1293.3" r="8.9"/><circle cx="1998.0" cy="1247.3" r="8.9"/><circle cx="2031.4" cy="1251.2" r="8.9"/><circle cx="2051.0" cy="1262.0" r="8.9"/><circle cx="2066.7" cy="1260.0" r="8.9"/><circle cx="2060.8" cy="1277.6" r="8.9"/><circle cx="2051.0" cy="1289.4" r="8.9"/><circle cx="2047.1" cy="1295.3" r="8.9"/><circle cx="2029.4" cy="1275.7" r="8.9"/><circle cx="1996.1" cy="1291.4" r="8.9"/><circle cx="1990.2" cy="1295.3" r="8.9"/><circle cx="2031.4" cy="1309.0" r="8.9"/><circle cx="2063.7" cy="1305.1" r="8.9"/><circle cx="2078.4" cy="1316.9" r="8.9"/><circle cx="2273.6" cy="653.7" r="8.9"/><circle cx="2289.0" cy="650.0" r="8.9"/><circle cx="2294.9" cy="650.7" r="8.9"/><circle cx="2289.0" cy="660.3" r="8.9"/><circle cx="2294.9" cy="666.2" r="8.9"/><circle cx="2288.3" cy="674.3" r="8.9"/><circle cx="2300.8" cy="677.2" r="8.9"/><circle cx="2297.8" cy="683.8" r="8.9"/><circle cx="2279.4" cy="698.5" r="8.9"/><circle cx="2272.8" cy="713.2" r="8.9"/><circle cx="2267.7" cy="722.8" r="8.9"/><circle cx="2261.8" cy="734.6" r="8.9"/><circle cx="2266.9" cy="741.2" r="8.9"/><circle cx="2250.0" cy="743.4" r="8.9"/><circle cx="2240.5" cy="746.3" r="8.9"/><circle cx="2246.4" cy="758.8" r="8.9"/><circle cx="2241.9" cy="763.2" r="8.9"/><circle cx="2274.3" cy="767.6" r="8.9"/><circle cx="2271.4" cy="775.0" r="8.9"/><circle cx="2237.5" cy="773.5" r="8.9"/><circle cx="2233.1" cy="783.8" r="8.9"/><circle cx="2225.8" cy="791.2" r="8.9"/><circle cx="2219.9" cy="801.5" r="8.9"/><circle cx="2215.5" cy="810.3" r="8.9"/><circle cx="2211.1" cy="820.6" r="8.9"/><circle cx="2265.5" cy="791.2" r="8.9"/><circle cx="2261.1" cy="798.5" r="8.9"/><circle cx="2277.2" cy="805.9" r="8.9"/><circle cx="2266.9" cy="813.2" r="8.9"/><circle cx="2269.9" cy="820.6" r="8.9"/><circle cx="2106.1" cy="1070.3" r="8.9"/><circle cx="2108.6" cy="1067.0" r="8.9"/><circle cx="2109.2" cy="1059.6" r="8.9"/><circle cx="2118.6" cy="1054.6" r="8.9"/><circle cx="2120.9" cy="1047.8" r="8.9"/><circle cx="2127.0" cy="1037.1" r="8.9"/><circle cx="2134.1" cy="1026.4" r="8.9"/><circle cx="2136.0" cy="1022.5" r="8.9"/><circle cx="2136.6" cy="1016.1" r="8.9"/><circle cx="2140.0" cy="1005.3" r="8.9"/><circle cx="2144.4" cy="999.3" r="8.9"/><circle cx="2145.4" cy="988.9" r="8.9"/><circle cx="2150.1" cy="981.7" r="8.9"/><circle cx="2155.2" cy="971.6" r="8.9"/><circle cx="2156.5" cy="963.7" r="8.9"/><circle cx="2155.5" cy="954.2" r="8.9"/><circle cx="2156.8" cy="950.6" r="8.9"/><circle cx="2159.2" cy="940.7" r="8.9"/><circle cx="2158.2" cy="928.8" r="8.9"/><circle cx="2159.5" cy="922.1" r="8.9"/><circle cx="2165.5" cy="915.7" r="8.9"/><circle cx="2165.0" cy="907.4" r="8.9"/><circle cx="2174.6" cy="898.2" r="8.9"/><circle cx="2172.4" cy="888.7" r="8.9"/><circle cx="2175.8" cy="880.0" r="8.9"/><circle cx="2185.4" cy="874.9" r="8.9"/><circle cx="2186.6" cy="868.0" r="8.9"/><circle cx="2191.5" cy="858.7" r="8.9"/><circle cx="2192.6" cy="850.7" r="8.9"/><circle cx="2196.8" cy="842.6" r="8.9"/><circle cx="2201.1" cy="832.5" r="8.9"/><circle cx="2205.4" cy="826.7" r="8.9"/><circle cx="2210.4" cy="816.7" r="8.9"/><circle cx="2210.7" cy="808.7" r="8.9"/><circle cx="2218.7" cy="807.1" r="8.9"/><circle cx="2221.8" cy="795.5" r="8.9"/><circle cx="2226.8" cy="790.7" r="8.9"/><circle cx="2228.9" cy="779.2" r="8.9"/><circle cx="2231.0" cy="772.6" r="8.9"/><circle cx="2235.0" cy="764.9" r="8.9"/><circle cx="2241.1" cy="760.6" r="8.9"/><circle cx="2241.2" cy="750.5" r="8.9"/><circle cx="2246.0" cy="740.2" r="8.9"/><circle cx="2256.4" cy="736.3" r="8.9"/><circle cx="2262.2" cy="728.3" r="8.9"/><circle cx="2260.7" cy="720.7" r="8.9"/><circle cx="2269.6" cy="717.3" r="8.9"/><circle cx="2277.1" cy="706.9" r="8.9"/><circle cx="2278.0" cy="697.0" r="8.9"/><circle cx="2283.2" cy="689.9" r="8.9"/><circle cx="2283.2" cy="680.6" r="8.9"/><circle cx="2285.7" cy="677.3" r="8.9"/><circle cx="2287.9" cy="670.7" r="8.9"/><circle cx="2288.6" cy="661.4" r="8.9"/><circle cx="2289.8" cy="646.8" r="8.9"/><circle cx="2115.4" cy="1068.7" r="8.9"/><circle cx="2119.6" cy="1061.0" r="8.9"/><circle cx="2118.9" cy="1057.8" r="8.9"/><circle cx="2127.7" cy="1051.1" r="8.9"/><circle cx="2131.9" cy="1038.4" r="8.9"/><circle cx="2135.3" cy="1035.4" r="8.9"/><circle cx="2138.3" cy="1029.7" r="8.9"/><circle cx="2140.4" cy="1022.3" r="8.9"/><circle cx="2147.2" cy="1008.0" r="8.9"/><circle cx="2145.8" cy="1004.9" r="8.9"/><circle cx="2155.0" cy="993.3" r="8.9"/><circle cx="2155.0" cy="990.2" r="8.9"/><circle cx="2156.5" cy="983.2" r="8.9"/><circle cx="2160.6" cy="969.4" r="8.9"/><circle cx="2161.6" cy="964.8" r="8.9"/><circle cx="2163.9" cy="957.4" r="8.9"/><circle cx="2163.6" cy="950.0" r="8.9"/><circle cx="2167.0" cy="940.8" r="8.9"/><circle cx="2171.4" cy="931.2" r="8.9"/><circle cx="2172.8" cy="926.0" r="8.9"/><circle cx="2179.8" cy="918.2" r="8.9"/><circle cx="2180.3" cy="906.9" r="8.9"/><circle cx="2179.9" cy="903.9" r="8.9"/><circle cx="2187.5" cy="895.1" r="8.9"/><circle cx="2188.2" cy="885.8" r="8.9"/><circle cx="2196.0" cy="879.7" r="8.9"/><circle cx="2196.7" cy="868.3" r="8.9"/><circle cx="2198.8" cy="864.7" r="8.9"/><circle cx="2201.9" cy="855.6" r="8.9"/><circle cx="2207.2" cy="849.6" r="8.9"/><circle cx="2212.4" cy="837.8" r="8.9"/><circle cx="2210.5" cy="830.1" r="8.9"/><circle cx="2217.2" cy="824.9" r="8.9"/><circle cx="2223.7" cy="819.5" r="8.9"/><circle cx="2222.1" cy="811.6" r="8.9"/><circle cx="2231.2" cy="804.3" r="8.9"/><circle cx="2233.3" cy="792.7" r="8.9"/><circle cx="2239.0" cy="788.9" r="8.9"/><circle cx="2241.6" cy="782.1" r="8.9"/><circle cx="2243.0" cy="768.8" r="8.9"/><circle cx="2248.2" cy="766.3" r="8.9"/><circle cx="2249.9" cy="758.7" r="8.9"/><circle cx="2259.3" cy="747.9" r="8.9"/><circle cx="2261.4" cy="743.8" r="8.9"/><circle cx="2264.7" cy="733.3" r="8.9"/><circle cx="2191.8" cy="1110.8" r="8.9"/><circle cx="2195.9" cy="1102.3" r="8.9"/><circle cx="2191.3" cy="1098.4" r="8.9"/><circle cx="2196.5" cy="1088.0" r="8.9"/><circle cx="2195.5" cy="1086.3" r="8.9"/><circle cx="2198.0" cy="1077.3" r="8.9"/><circle cx="2195.5" cy="1071.4" r="8.9"/><circle cx="2193.8" cy="1062.2" r="8.9"/><circle cx="2194.2" cy="1059.4" r="8.9"/><circle cx="2196.0" cy="1052.1" r="8.9"/><circle cx="2196.8" cy="1045.4" r="8.9"/><circle cx="2195.5" cy="1035.7" r="8.9"/><circle cx="2202.0" cy="1031.6" r="8.9"/><circle cx="2196.4" cy="1027.1" r="8.9"/><circle cx="2203.0" cy="1017.6" r="8.9"/><circle cx="2203.5" cy="1012.8" r="8.9"/><circle cx="2204.8" cy="1004.4" r="8.9"/><circle cx="2203.2" cy="1005.1" r="8.9"/><circle cx="2211.2" cy="995.6" r="8.9"/><circle cx="2211.5" cy="988.1" r="8.9"/><circle cx="2215.3" cy="983.3" r="8.9"/><circle cx="2218.9" cy="979.7" r="8.9"/><circle cx="2220.4" cy="975.2" r="8.9"/><circle cx="2219.7" cy="963.2" r="8.9"/><circle cx="2222.6" cy="958.7" r="8.9"/><circle cx="2225.0" cy="952.3" r="8.9"/><circle cx="2231.6" cy="952.6" r="8.9"/><circle cx="2234.2" cy="947.6" r="8.9"/><circle cx="2241.2" cy="936.3" r="8.9"/><circle cx="2242.8" cy="933.5" r="8.9"/><circle cx="2243.3" cy="932.4" r="8.9"/><circle cx="2248.1" cy="924.5" r="8.9"/><circle cx="2253.7" cy="921.6" r="8.9"/><circle cx="2256.3" cy="911.7" r="8.9"/><circle cx="2257.1" cy="904.2" r="8.9"/><circle cx="2263.1" cy="904.0" r="8.9"/><circle cx="2260.2" cy="891.4" r="8.9"/><circle cx="2260.5" cy="887.2" r="8.9"/><circle cx="2265.0" cy="884.7" r="8.9"/><circle cx="2264.6" cy="872.3" r="8.9"/><circle cx="2176.3" cy="1088.5" r="8.9"/><circle cx="2176.1" cy="1084.8" r="8.9"/><circle cx="2172.8" cy="1073.3" r="8.9"/><circle cx="2178.5" cy="1073.2" r="8.9"/><circle cx="2178.7" cy="1063.1" r="8.9"/><circle cx="2178.9" cy="1060.7" r="8.9"/><circle cx="2176.3" cy="1052.1" r="8.9"/><circle cx="2178.4" cy="1045.1" r="8.9"/><circle cx="2181.7" cy="1040.0" r="8.9"/><circle cx="2181.8" cy="1034.5" r="8.9"/><circle cx="2186.7" cy="1028.2" r="8.9"/><circle cx="2188.8" cy="1024.1" r="8.9"/><circle cx="2185.8" cy="1023.8" r="8.9"/><circle cx="2188.9" cy="1018.5" r="8.9"/><circle cx="2195.6" cy="1012.9" r="8.9"/><circle cx="2192.8" cy="1004.6" r="8.9"/><circle cx="2194.7" cy="1002.8" r="8.9"/><circle cx="2202.2" cy="995.5" r="8.9"/><circle cx="2201.7" cy="988.2" r="8.9"/><circle cx="2206.5" cy="984.0" r="8.9"/><circle cx="2207.4" cy="976.4" r="8.9"/><circle cx="2207.2" cy="970.8" r="8.9"/><circle cx="2213.6" cy="969.4" r="8.9"/><circle cx="2212.5" cy="966.8" r="8.9"/><circle cx="2216.3" cy="958.7" r="8.9"/><circle cx="2218.5" cy="952.8" r="8.9"/><circle cx="2226.2" cy="948.4" r="8.9"/><circle cx="2223.6" cy="944.2" r="8.9"/><circle cx="2226.7" cy="941.8" r="8.9"/><circle cx="2227.4" cy="937.1" r="8.9"/><circle cx="2229.1" cy="931.2" r="8.9"/><circle cx="2235.5" cy="921.2" r="8.9"/><circle cx="2235.0" cy="916.1" r="8.9"/><circle cx="2234.1" cy="909.9" r="8.9"/><circle cx="2235.4" cy="909.8" r="8.9"/><circle cx="2240.4" cy="903.7" r="8.9"/><circle cx="2234.6" cy="893.6" r="8.9"/><circle cx="2241.1" cy="886.3" r="8.9"/><circle cx="2240.9" cy="882.4" r="8.9"/><circle cx="2243.6" cy="874.9" r="8.9"/><circle cx="2165.4" cy="1099.7" r="8.9"/><circle cx="2161.6" cy="1091.2" r="8.9"/><circle cx="2167.2" cy="1088.8" r="8.9"/><circle cx="2163.5" cy="1082.1" r="8.9"/><circle cx="2169.4" cy="1074.5" r="8.9"/><circle cx="2167.8" cy="1067.9" r="8.9"/><circle cx="2165.9" cy="1066.2" r="8.9"/><circle cx="2170.6" cy="1056.1" r="8.9"/><circle cx="2167.8" cy="1049.5" r="8.9"/><circle cx="2173.1" cy="1046.4" r="8.9"/><circle cx="2172.3" cy="1038.4" r="8.9"/><circle cx="2176.2" cy="1036.0" r="8.9"/><circle cx="2179.2" cy="1029.2" r="8.9"/><circle cx="2176.5" cy="1019.7" r="8.9"/><circle cx="2182.0" cy="1016.2" r="8.9"/><circle cx="2184.3" cy="1008.1" r="8.9"/><circle cx="2187.3" cy="1004.4" r="8.9"/><circle cx="2189.9" cy="1002.5" r="8.9"/><circle cx="2189.8" cy="990.9" r="8.9"/><circle cx="2195.1" cy="988.4" r="8.9"/><circle cx="2197.2" cy="981.3" r="8.9"/><circle cx="2195.0" cy="979.7" r="8.9"/><circle cx="2198.8" cy="969.4" r="8.9"/><circle cx="2201.3" cy="966.9" r="8.9"/><circle cx="2201.3" cy="960.8" r="8.9"/><circle cx="2206.9" cy="955.2" r="8.9"/><circle cx="2207.4" cy="951.1" r="8.9"/><circle cx="2215.0" cy="946.7" r="8.9"/><circle cx="2214.3" cy="940.1" r="8.9"/><circle cx="2217.4" cy="934.9" r="8.9"/><circle cx="2217.9" cy="930.3" r="8.9"/><circle cx="2226.9" cy="922.1" r="8.9"/><circle cx="2226.6" cy="916.9" r="8.9"/><circle cx="2229.5" cy="907.8" r="8.9"/><circle cx="2235.3" cy="903.8" r="8.9"/><circle cx="2232.5" cy="859.0" r="8.9"/><circle cx="2235.6" cy="858.8" r="8.9"/><circle cx="2236.7" cy="848.5" r="8.9"/><circle cx="2243.9" cy="844.0" r="8.9"/><circle cx="2241.8" cy="841.6" r="8.9"/><circle cx="2250.1" cy="837.4" r="8.9"/><circle cx="2255.8" cy="831.2" r="8.9"/><circle cx="2261.8" cy="832.3" r="8.9"/><circle cx="2260.9" cy="824.9" r="8.9"/><circle cx="2268.9" cy="824.3" r="8.9"/><circle cx="2270.2" cy="816.8" r="8.9"/><circle cx="2272.9" cy="811.4" r="8.9"/><circle cx="2276.0" cy="810.9" r="8.9"/><circle cx="2271.3" cy="803.8" r="8.9"/><circle cx="2272.4" cy="796.0" r="8.9"/><circle cx="2269.8" cy="796.5" r="8.9"/><circle cx="2263.7" cy="787.9" r="8.9"/><circle cx="2265.6" cy="783.8" r="8.9"/><circle cx="2266.2" cy="782.2" r="8.9"/><circle cx="2272.6" cy="773.5" r="8.9"/><circle cx="2272.6" cy="769.0" r="8.9"/><circle cx="2276.8" cy="768.6" r="8.9"/><circle cx="2281.7" cy="762.7" r="8.9"/><circle cx="2284.1" cy="756.9" r="8.9"/><circle cx="2281.1" cy="749.2" r="8.9"/><circle cx="2133.5" cy="1084.6" r="8.9"/><circle cx="2132.1" cy="1075.6" r="8.9"/><circle cx="2138.4" cy="1069.9" r="8.9"/><circle cx="2141.3" cy="1062.5" r="8.9"/><circle cx="2144.1" cy="1060.1" r="8.9"/><circle cx="2144.8" cy="1052.2" r="8.9"/><circle cx="2155.0" cy="1051.3" r="8.9"/><circle cx="2156.9" cy="1044.3" r="8.9"/><circle cx="2157.7" cy="1039.8" r="8.9"/><circle cx="2160.0" cy="1027.7" r="8.9"/><circle cx="2160.1" cy="1023.1" r="8.9"/><circle cx="2162.1" cy="1017.0" r="8.9"/><circle cx="2162.9" cy="1015.4" r="8.9"/><circle cx="2166.0" cy="1004.7" r="8.9"/><circle cx="2168.1" cy="1000.3" r="8.9"/><circle cx="2174.0" cy="993.5" r="8.9"/><circle cx="2172.4" cy="990.2" r="8.9"/><circle cx="2174.0" cy="984.1" r="8.9"/><circle cx="2182.7" cy="977.8" r="8.9"/><circle cx="2181.1" cy="971.9" r="8.9"/><circle cx="2186.2" cy="964.1" r="8.9"/><circle cx="2186.6" cy="958.4" r="8.9"/><circle cx="2191.0" cy="954.8" r="8.9"/><circle cx="2194.2" cy="948.1" r="8.9"/><circle cx="2196.1" cy="944.6" r="8.9"/><circle cx="2204.6" cy="939.6" r="8.9"/><circle cx="2206.0" cy="934.3" r="8.9"/><circle cx="2206.8" cy="929.2" r="8.9"/><circle cx="2211.9" cy="922.6" r="8.9"/><circle cx="2216.3" cy="916.5" r="8.9"/><circle cx="1378.1" cy="1289.7" r="8.9"/><circle cx="1448.8" cy="1263.0" r="8.9"/><circle cx="1450.2" cy="1278.5" r="8.9"/><circle cx="1442.8" cy="1284.4" r="8.9"/><circle cx="1406.0" cy="1276.8" r="8.9"/><circle cx="1411.2" cy="1273.8" r="8.9"/><circle cx="1388.3" cy="1279.8" r="8.9"/><circle cx="1428.3" cy="1267.1" r="8.9"/><circle cx="1379.2" cy="1287.3" r="8.9"/><circle cx="1395.3" cy="1278.8" r="8.9"/><circle cx="1374.4" cy="1290.4" r="8.9"/><circle cx="1380.7" cy="1287.8" r="8.9"/><circle cx="1452.7" cy="1277.0" r="8.9"/><circle cx="1366.8" cy="1297.7" r="8.9"/><circle cx="1445.9" cy="1289.7" r="8.9"/><circle cx="1420.2" cy="1259.7" r="8.9"/><circle cx="1360.8" cy="1294.4" r="8.9"/><circle cx="1406.4" cy="1276.2" r="8.9"/><circle cx="1433.7" cy="1252.8" r="8.9"/><circle cx="1435.3" cy="1269.4" r="8.9"/><circle cx="1336.2" cy="1314.1" r="8.9"/><circle cx="1407.5" cy="1271.5" r="8.9"/><circle cx="1388.0" cy="1274.3" r="8.9"/><circle cx="1329.6" cy="1313.1" r="8.9"/><circle cx="1442.0" cy="1268.0" r="8.9"/><circle cx="1427.7" cy="1261.6" r="8.9"/><circle cx="1400.4" cy="1274.3" r="8.9"/><circle cx="1339.7" cy="1308.1" r="8.9"/><circle cx="1419.6" cy="1270.9" r="8.9"/><circle cx="1444.9" cy="1254.4" r="8.9"/><circle cx="1440.4" cy="1256.9" r="8.9"/><circle cx="1425.9" cy="1264.7" r="8.9"/><circle cx="1454.4" cy="1289.8" r="8.9"/><circle cx="1411.4" cy="1261.0" r="8.9"/><circle cx="1361.5" cy="1304.0" r="8.9"/><circle cx="1405.4" cy="1268.5" r="8.9"/><circle cx="1347.7" cy="1310.1" r="8.9"/><circle cx="1369.0" cy="1295.6" r="8.9"/><circle cx="1269.0" cy="1341.1" r="8.9"/><circle cx="1297.0" cy="1336.9" r="8.9"/><circle cx="1270.9" cy="1351.6" r="8.9"/><circle cx="1288.2" cy="1330.4" r="8.9"/><circle cx="1330.4" cy="1326.9" r="8.9"/><circle cx="1302.6" cy="1347.7" r="8.9"/><circle cx="1334.4" cy="1319.9" r="8.9"/><circle cx="1326.6" cy="1315.4" r="8.9"/><circle cx="1269.7" cy="1364.9" r="8.9"/><circle cx="1290.5" cy="1328.9" r="8.9"/><circle cx="1327.6" cy="1315.2" r="8.9"/><circle cx="1336.3" cy="1320.3" r="8.9"/><circle cx="1305.1" cy="1349.4" r="8.9"/><circle cx="1269.2" cy="1356.7" r="8.9"/><circle cx="1333.9" cy="1329.7" r="8.9"/><circle cx="1326.5" cy="1333.7" r="8.9"/><circle cx="1458.7" cy="1270.1" r="8.9"/><circle cx="1481.5" cy="1291.8" r="8.9"/><circle cx="1457.3" cy="1247.2" r="8.9"/><circle cx="1448.9" cy="1242.4" r="8.9"/><circle cx="1481.8" cy="1281.8" r="8.9"/><circle cx="1442.8" cy="1250.2" r="8.9"/><circle cx="1465.9" cy="1265.2" r="8.9"/><circle cx="1468.6" cy="1288.5" r="8.9"/><circle cx="1472.8" cy="1266.4" r="8.9"/><circle cx="1486.7" cy="1293.7" r="8.9"/><circle cx="1453.0" cy="1247.6" r="8.9"/><circle cx="1450.0" cy="1266.9" r="8.9"/><circle cx="1453.2" cy="1244.7" r="8.9"/><circle cx="1429.0" cy="1233.1" r="8.9"/><circle cx="1459.2" cy="1246.3" r="8.9"/><circle cx="1443.5" cy="1242.5" r="8.9"/><circle cx="1493.3" cy="1300.7" r="8.9"/><circle cx="1492.1" cy="1287.1" r="8.9"/><circle cx="1450.2" cy="1245.9" r="8.9"/><circle cx="1453.7" cy="1273.0" r="8.9"/><circle cx="2051.4" cy="1212.7" r="8.9"/><circle cx="2056.1" cy="1203.4" r="8.9"/><circle cx="2064.0" cy="1203.8" r="8.9"/><circle cx="2070.2" cy="1199.2" r="8.9"/><circle cx="2075.2" cy="1195.8" r="8.9"/><circle cx="2077.2" cy="1188.1" r="8.9"/><circle cx="2080.3" cy="1182.7" r="8.9"/><circle cx="2088.8" cy="1177.4" r="8.9"/><circle cx="2095.8" cy="1175.3" r="8.9"/><circle cx="2100.2" cy="1178.3" r="8.9"/><circle cx="2103.5" cy="1168.2" r="8.9"/><circle cx="2111.7" cy="1165.7" r="8.9"/><circle cx="2118.8" cy="1160.2" r="8.9"/><circle cx="2123.7" cy="1160.7" r="8.9"/><circle cx="2127.4" cy="1152.3" r="8.9"/><circle cx="2128.1" cy="1148.7" r="8.9"/><circle cx="2134.1" cy="1141.9" r="8.9"/><circle cx="2137.3" cy="1136.9" r="8.9"/><circle cx="2143.9" cy="1134.5" r="8.9"/><circle cx="2150.0" cy="1124.8" r="8.9"/><circle cx="2149.7" cy="1121.3" r="8.9"/><circle cx="2155.2" cy="1114.9" r="8.9"/><circle cx="2156.2" cy="1107.4" r="8.9"/><circle cx="2160.7" cy="1104.3" r="8.9"/><circle cx="2168.8" cy="1101.7" r="8.9"/><circle cx="2171.5" cy="1096.3" r="8.9"/><circle cx="2175.2" cy="1087.8" r="8.9"/><circle cx="2177.1" cy="1077.9" r="8.9"/><circle cx="2179.6" cy="1075.9" r="8.9"/><circle cx="2180.6" cy="1069.9" r="8.9"/><circle cx="2188.5" cy="1063.5" r="8.9"/><circle cx="2188.5" cy="1055.8" r="8.9"/><circle cx="2188.5" cy="1053.5" r="8.9"/><circle cx="2188.7" cy="1042.4" r="8.9"/><circle cx="2196.0" cy="1038.0" r="8.9"/><circle cx="2194.6" cy="1033.3" r="8.9"/><circle cx="2199.2" cy="1026.5" r="8.9"/><circle cx="2202.0" cy="1019.9" r="8.9"/><circle cx="2205.5" cy="1012.7" r="8.9"/><circle cx="2204.9" cy="1004.9" r="8.9"/><circle cx="2212.8" cy="1001.2" r="8.9"/><circle cx="2209.9" cy="997.2" r="8.9"/><circle cx="2214.2" cy="985.9" r="8.9"/><circle cx="2219.6" cy="981.2" r="8.9"/><circle cx="2222.8" cy="977.6" r="8.9"/><circle cx="2224.5" cy="972.0" r="8.9"/><circle cx="2227.3" cy="965.8" r="8.9"/><circle cx="2234.2" cy="957.1" r="8.9"/><circle cx="2072.2" cy="1218.6" r="8.9"/><circle cx="2080.0" cy="1224.1" r="8.9"/><circle cx="2088.2" cy="1222.8" r="8.9"/><circle cx="2097.1" cy="1217.7" r="8.9"/><circle cx="2105.5" cy="1219.8" r="8.9"/><circle cx="2104.1" cy="1214.8" r="8.9"/><circle cx="2111.7" cy="1205.7" r="8.9"/><circle cx="2123.1" cy="1206.8" r="8.9"/><circle cx="2129.0" cy="1202.1" r="8.9"/><circle cx="2130.6" cy="1194.2" r="8.9"/><circle cx="2128.5" cy="1189.1" r="8.9"/><circle cx="2130.6" cy="1184.3" r="8.9"/><circle cx="2136.5" cy="1176.2" r="8.9"/><circle cx="2144.7" cy="1171.3" r="8.9"/><circle cx="2151.3" cy="1167.3" r="8.9"/><circle cx="2156.3" cy="1161.5" r="8.9"/><circle cx="2160.6" cy="1157.3" r="8.9"/><circle cx="2159.3" cy="1150.0" r="8.9"/><circle cx="2165.9" cy="1145.0" r="8.9"/><circle cx="2174.0" cy="1140.6" r="8.9"/><circle cx="2176.2" cy="1133.0" r="8.9"/><circle cx="2186.6" cy="1132.7" r="8.9"/><circle cx="2192.4" cy="1121.7" r="8.9"/><circle cx="2196.9" cy="1117.2" r="8.9"/><circle cx="2196.5" cy="1114.6" r="8.9"/><circle cx="2193.3" cy="1107.9" r="8.9"/><circle cx="2195.6" cy="1095.9" r="8.9"/><circle cx="2190.6" cy="1089.9" r="8.9"/><circle cx="2193.1" cy="1083.6" r="8.9"/><circle cx="2186.0" cy="1072.5" r="8.9"/><circle cx="2060.8" cy="1111.6" r="8.9"/><circle cx="2067.6" cy="1109.9" r="8.9"/><circle cx="2074.6" cy="1110.8" r="8.9"/><circle cx="2081.2" cy="1105.6" r="8.9"/><circle cx="2090.5" cy="1106.2" r="8.9"/><circle cx="2095.0" cy="1105.7" r="8.9"/><circle cx="2100.9" cy="1095.5" r="8.9"/><circle cx="2100.8" cy="1091.7" r="8.9"/><circle cx="2106.1" cy="1092.1" r="8.9"/><circle cx="2111.3" cy="1080.8" r="8.9"/><circle cx="2110.0" cy="1080.8" r="8.9"/><circle cx="2116.5" cy="1072.4" r="8.9"/><circle cx="2118.9" cy="1065.7" r="8.9"/><circle cx="2125.4" cy="1062.5" r="8.9"/><circle cx="2129.5" cy="1059.1" r="8.9"/><circle cx="2127.8" cy="1052.3" r="8.9"/><circle cx="2132.0" cy="1050.9" r="8.9"/><circle cx="2137.8" cy="1039.5" r="8.9"/><circle cx="2138.1" cy="1036.4" r="8.9"/><circle cx="2143.9" cy="1032.9" r="8.9"/><circle cx="2147.4" cy="1026.6" r="8.9"/><circle cx="2148.9" cy="1023.5" r="8.9"/><circle cx="2154.9" cy="1014.5" r="8.9"/><circle cx="2158.5" cy="1015.7" r="8.9"/><circle cx="2158.4" cy="1004.2" r="8.9"/><circle cx="2165.6" cy="999.5" r="8.9"/></g>
<g fill="#3190d3" fill-opacity="0.5" stroke="#3190d3" stroke-width="3.1"><circle cx="539.8" cy="842.7" r="8.9"/><circle cx="560.8" cy="875.7" r="8.9"/><circle cx="563.7" cy="920.8" r="8.9"/><circle cx="590.8" cy="971.6" r="8.9"/><circle cx="605.9" cy="1043.7" r="8.9"/><circle cx="632.9" cy="1082.7" r="8.9"/><circle cx="630.0" cy="1166.7" r="8.9"/><circle cx="654.1" cy="1220.8" r="8.9"/><circle cx="675.1" cy="1289.8" r="8.9"/><circle cx="683.9" cy="1340.8" r="8.9"/><circle cx="690.0" cy="1412.7" r="8.9"/><circle cx="708.0" cy="1466.3" r="8.9"/><circle cx="734.1" cy="1574.9" r="8.9"/><circle cx="734.9" cy="1588.2" r="8.9"/><circle cx="740.3" cy="1591.6" r="8.9"/><circle cx="740.9" cy="1594.7" r="8.9"/><circle cx="743.9" cy="1595.6" r="8.9"/><circle cx="748.3" cy="1599.4" r="8.9"/><circle cx="748.4" cy="1600.6" r="8.9"/><circle cx="752.5" cy="1603.9" r="8.9"/><circle cx="754.1" cy="1604.2" r="8.9"/><circle cx="755.6" cy="1606.7" r="8.9"/><circle cx="753.1" cy="1613.1" r="8.9"/><circle cx="752.8" cy="1614.8" r="8.9"/><circle cx="754.6" cy="1618.0" r="8.9"/><circle cx="760.4" cy="1619.9" r="8.9"/><circle cx="763.3" cy="1621.0" r="8.9"/><circle cx="765.2" cy="1624.2" r="8.9"/><circle cx="767.4" cy="1625.4" r="8.9"/><circle cx="771.4" cy="1629.6" r="8.9"/><circle cx="772.5" cy="1630.0" r="8.9"/><circle cx="773.3" cy="1632.0" r="8.9"/><circle cx="778.9" cy="1635.1" r="8.9"/><circle cx="782.1" cy="1634.1" r="8.9"/><circle cx="782.4" cy="1638.2" r="8.9"/><circle cx="783.0" cy="1639.6" r="8.9"/><circle cx="785.9" cy="1640.5" r="8.9"/><circle cx="787.5" cy="1646.1" r="8.9"/><circle cx="790.0" cy="1646.1" r="8.9"/><circle cx="793.1" cy="1651.9" r="8.9"/><circle cx="793.4" cy="1652.7" r="8.9"/><circle cx="797.6" cy="1657.3" r="8.9"/><circle cx="801.9" cy="1658.5" r="8.9"/><circle cx="802.4" cy="1657.5" r="8.9"/><circle cx="805.9" cy="1661.0" r="8.9"/><circle cx="811.9" cy="1658.6" r="8.9"/><circle cx="811.3" cy="1660.0" r="8.9"/><circle cx="814.7" cy="1662.3" r="8.9"/><circle cx="819.5" cy="1662.4" r="8.9"/><circle cx="819.6" cy="1664.8" r="8.9"/><circle cx="824.2" cy="1667.3" r="8.9"/><circle cx="829.8" cy="1669.6" r="8.9"/><circle cx="830.8" cy="1670.4" r="8.9"/><circle cx="834.7" cy="1668.8" r="8.9"/><circle cx="838.9" cy="1673.3" r="8.9"/><circle cx="842.0" cy="1674.4" r="8.9"/><circle cx="842.8" cy="1673.6" r="8.9"/><circle cx="844.5" cy="1675.7" r="8.9"/><circle cx="847.5" cy="1674.1" r="8.9"/><circle cx="851.3" cy="1675.6" r="8.9"/><circle cx="855.0" cy="1676.3" r="8.9"/><circle cx="856.5" cy="1678.0" r="8.9"/><circle cx="860.1" cy="1680.1" r="8.9"/><circle cx="863.0" cy="1682.6" r="8.9"/><circle cx="869.2" cy="1679.1" r="8.9"/><circle cx="870.8" cy="1680.1" r="8.9"/><circle cx="874.6" cy="1679.4" r="8.9"/><circle cx="880.1" cy="1684.4" r="8.9"/><circle cx="881.5" cy="1682.5" r="8.9"/><circle cx="882.9" cy="1679.8" r="8.9"/><circle cx="887.3" cy="1679.7" r="8.9"/><circle cx="1244.7" cy="1556.7" r="8.9"/><circle cx="1265.9" cy="1529.6" r="8.9"/><circle cx="1268.8" cy="1508.6" r="8.9"/><circle cx="1296.1" cy="1484.7" r="8.9"/><circle cx="1311.0" cy="1448.8" r="8.9"/><circle cx="1337.8" cy="1427.6" r="8.9"/><circle cx="1335.3" cy="1392.0" r="8.9"/><circle cx="1358.8" cy="1373.7" r="8.9"/><circle cx="1380.0" cy="1359.6" r="8.9"/><circle cx="1395.3" cy="1358.4" r="8.9"/><circle cx="1388.8" cy="1329.0" r="8.9"/><circle cx="1412.9" cy="1337.6" r="8.9"/><circle cx="1442.3" cy="1323.1" r="8.9"/><circle cx="1446.3" cy="1322.6" r="8.9"/><circle cx="1450.3" cy="1324.8" r="8.9"/><circle cx="1451.7" cy="1331.1" r="8.9"/><circle cx="1456.5" cy="1331.6" r="8.9"/><circle cx="1455.7" cy="1336.8" r="8.9"/><circle cx="1459.6" cy="1340.6" r="8.9"/><circle cx="1460.5" cy="1343.7" r="8.9"/><circle cx="1466.8" cy="1349.6" r="8.9"/><circle cx="1467.9" cy="1349.7" r="8.9"/><circle cx="1475.8" cy="1348.1" r="8.9"/><circle cx="1480.9" cy="1348.9" r="8.9"/><circle cx="1484.3" cy="1350.6" r="8.9"/><circle cx="1488.8" cy="1348.1" r="8.9"/><circle cx="1492.3" cy="1348.3" r="8.9"/><circle cx="1497.0" cy="1348.1" r="8.9"/><circle cx="1501.1" cy="1348.5" r="8.9"/><circle cx="1502.6" cy="1352.4" r="8.9"/><circle cx="1507.2" cy="1354.5" r="8.9"/><circle cx="1511.0" cy="1361.1" r="8.9"/><circle cx="1512.3" cy="1361.9" r="8.9"/><circle cx="1514.9" cy="1365.4" r="8.9"/><circle cx="1514.0" cy="1371.6" r="8.9"/><circle cx="1514.6" cy="1376.2" r="8.9"/><circle cx="1516.6" cy="1378.9" r="8.9"/><circle cx="1516.6" cy="1383.7" r="8.9"/><circle cx="1516.5" cy="1391.6" r="8.9"/><circle cx="1515.5" cy="1392.6" r="8.9"/><circle cx="1518.8" cy="1397.4" r="8.9"/><circle cx="1524.2" cy="1399.5" r="8.9"/><circle cx="1523.9" cy="1408.0" r="8.9"/><circle cx="1522.7" cy="1411.7" r="8.9"/><circle cx="1519.4" cy="1417.1" r="8.9"/><circle cx="1523.4" cy="1420.5" r="8.9"/><circle cx="1528.7" cy="1420.0" r="8.9"/><circle cx="1530.9" cy="1427.4" r="8.9"/><circle cx="1530.2" cy="1428.4" r="8.9"/><circle cx="1535.1" cy="1431.8" r="8.9"/><circle cx="1537.3" cy="1436.8" r="8.9"/><circle cx="1538.2" cy="1440.6" r="8.9"/><circle cx="1537.6" cy="1448.9" r="8.9"/><circle cx="1537.2" cy="1450.2" r="8.9"/><circle cx="1540.7" cy="1454.7" r="8.9"/><circle cx="1540.9" cy="1457.9" r="8.9"/><circle cx="1545.2" cy="1464.3" r="8.9"/><circle cx="1551.5" cy="1466.8" r="8.9"/><circle cx="1553.4" cy="1468.0" r="8.9"/><circle cx="1557.4" cy="1468.5" r="8.9"/><circle cx="1564.0" cy="1469.9" r="8.9"/><circle cx="1569.1" cy="1473.3" r="8.9"/><circle cx="1571.0" cy="1477.9" r="8.9"/><circle cx="1570.8" cy="1482.6" r="8.9"/><circle cx="1574.9" cy="1484.0" r="8.9"/><circle cx="1576.8" cy="1487.9" r="8.9"/><circle cx="1580.1" cy="1493.3" r="8.9"/><circle cx="1579.9" cy="1498.0" r="8.9"/><circle cx="1583.8" cy="1498.1" r="8.9"/><circle cx="1588.6" cy="1500.3" r="8.9"/><circle cx="1588.5" cy="1506.0" r="8.9"/><circle cx="1587.1" cy="1514.1" r="8.9"/><circle cx="1586.5" cy="1529.4" r="8.9"/><circle cx="1593.3" cy="1535.3" r="8.9"/><circle cx="1949.8" cy="1512.0" r="8.9"/><circle cx="1970.8" cy="1505.7" r="8.9"/><circle cx="1973.7" cy="1481.6" r="8.9"/><circle cx="2000.8" cy="1457.6" r="8.9"/><circle cx="2015.9" cy="1418.8" r="8.9"/><circle cx="2042.9" cy="1400.8" r="8.9"/><circle cx="2040.4" cy="1355.7" r="8.9"/><circle cx="2063.7" cy="1316.5" r="8.9"/><circle cx="2084.7" cy="1260.0" r="8.9"/><circle cx="2093.7" cy="1244.9" r="8.9"/><circle cx="2100.0" cy="1139.4" r="8.9"/><circle cx="2118.0" cy="1107.1" r="8.9"/><circle cx="2145.7" cy="1011.7" r="8.9"/><circle cx="2147.5" cy="1005.7" r="8.9"/><circle cx="2147.8" cy="998.6" r="8.9"/><circle cx="2148.8" cy="993.9" r="8.9"/><circle cx="2150.5" cy="987.3" r="8.9"/><circle cx="2156.2" cy="983.1" r="8.9"/><circle cx="2157.8" cy="975.2" r="8.9"/><circle cx="2159.6" cy="970.7" r="8.9"/><circle cx="2163.3" cy="965.0" r="8.9"/><circle cx="2166.3" cy="962.0" r="8.9"/><circle cx="2166.6" cy="955.1" r="8.9"/><circle cx="2171.2" cy="947.9" r="8.9"/><circle cx="2172.1" cy="945.1" r="8.9"/><circle cx="2173.1" cy="937.7" r="8.9"/><circle cx="2177.2" cy="934.0" r="8.9"/><circle cx="2186.2" cy="929.6" r="8.9"/><circle cx="2187.1" cy="926.3" r="8.9"/><circle cx="2193.6" cy="922.6" r="8.9"/><circle cx="2197.5" cy="917.7" r="8.9"/><circle cx="2202.9" cy="912.3" r="8.9"/><circle cx="2204.2" cy="909.2" r="8.9"/><circle cx="2205.8" cy="902.4" r="8.9"/><circle cx="2207.6" cy="896.7" r="8.9"/><circle cx="2207.1" cy="891.6" r="8.9"/><circle cx="2212.0" cy="882.5" r="8.9"/><circle cx="2215.2" cy="879.3" r="8.9"/><circle cx="2216.6" cy="873.9" r="8.9"/><circle cx="2219.4" cy="869.1" r="8.9"/><circle cx="2220.0" cy="861.0" r="8.9"/><circle cx="2222.4" cy="858.1" r="8.9"/><circle cx="2229.1" cy="851.9" r="8.9"/><circle cx="2227.2" cy="847.3" r="8.9"/><circle cx="2226.6" cy="838.6" r="8.9"/><circle cx="2224.4" cy="835.4" r="8.9"/><circle cx="2229.4" cy="828.8" r="8.9"/><circle cx="2230.9" cy="823.4" r="8.9"/><circle cx="2234.1" cy="821.0" r="8.9"/><circle cx="2236.9" cy="813.9" r="8.9"/><circle cx="2241.2" cy="809.0" r="8.9"/><circle cx="2242.3" cy="801.0" r="8.9"/><circle cx="2291.9" cy="714.7" r="8.9"/><circle cx="2291.2" cy="701.5" r="8.9"/><circle cx="2299.3" cy="695.6" r="8.9"/><circle cx="2226.0" cy="823.2" r="8.9"/><circle cx="2229.9" cy="821.8" r="8.9"/><circle cx="2232.5" cy="818.9" r="8.9"/><circle cx="2232.7" cy="816.3" r="8.9"/><circle cx="2235.4" cy="813.5" r="8.9"/><circle cx="2235.4" cy="813.2" r="8.9"/><circle cx="2237.4" cy="807.5" r="8.9"/><circle cx="2238.2" cy="805.1" r="8.9"/><circle cx="2239.5" cy="802.4" r="8.9"/><circle cx="2241.3" cy="797.6" r="8.9"/><circle cx="2243.6" cy="796.5" r="8.9"/><circle cx="2240.4" cy="793.0" r="8.9"/><circle cx="2245.4" cy="789.4" r="8.9"/><circle cx="2243.0" cy="786.3" r="8.9"/><circle cx="2246.6" cy="779.1" r="8.9"/><circle cx="2244.9" cy="780.2" r="8.9"/><circle cx="2249.9" cy="774.0" r="8.9"/><circle cx="2249.7" cy="770.9" r="8.9"/><circle cx="2252.9" cy="771.5" r="8.9"/><circle cx="2256.0" cy="766.1" r="8.9"/><circle cx="2261.4" cy="766.9" r="8.9"/><circle cx="2260.6" cy="765.1" r="8.9"/><circle cx="2265.5" cy="762.3" r="8.9"/><circle cx="2268.5" cy="760.7" r="8.9"/><circle cx="2271.9" cy="758.2" r="8.9"/><circle cx="2271.6" cy="755.1" r="8.9"/><circle cx="2275.7" cy="752.8" r="8.9"/><circle cx="2277.3" cy="750.7" r="8.9"/><circle cx="2278.8" cy="744.3" r="8.9"/><circle cx="2278.2" cy="740.3" r="8.9"/><circle cx="2280.7" cy="736.6" r="8.9"/><circle cx="2282.4" cy="734.0" r="8.9"/><circle cx="2284.4" cy="732.6" r="8.9"/><circle cx="2287.1" cy="731.8" r="8.9"/><circle cx="2287.0" cy="729.2" r="8.9"/><circle cx="2290.8" cy="724.8" r="8.9"/><circle cx="2292.6" cy="722.7" r="8.9"/><circle cx="2292.1" cy="717.3" r="8.9"/></g>
<g fill="#e69d33" fill-opacity="0.5" stroke="#e69d33" stroke-width="3.1"><circle cx="444.3" cy="953.1" r="8.9"/><circle cx="452.9" cy="969.0" r="8.9"/><circle cx="454.5" cy="1002.0" r="8.9"/><circle cx="464.7" cy="1013.7" r="8.9"/><circle cx="467.8" cy="1044.1" r="8.9"/><circle cx="476.1" cy="1076.5" r="8.9"/><circle cx="497.6" cy="1102.0" r="8.9"/><circle cx="493.7" cy="1094.1" r="8.9"/><circle cx="527.5" cy="1107.5" r="8.9"/><circle cx="549.0" cy="1115.3" r="8.9"/><circle cx="515.7" cy="1127.5" r="8.9"/><circle cx="566.7" cy="1136.7" r="8.9"/><circle cx="584.9" cy="1163.3" r="8.9"/><circle cx="587.8" cy="1179.0" r="8.9"/><circle cx="596.3" cy="1207.5" r="8.9"/><circle cx="602.7" cy="1250.6" r="8.9"/><circle cx="606.1" cy="1280.6" r="8.9"/><circle cx="604.1" cy="1298.2" r="8.9"/><circle cx="597.3" cy="1301.6" r="8.9"/><circle cx="609.0" cy="1325.7" r="8.9"/><circle cx="627.1" cy="1352.5" r="8.9"/><circle cx="638.8" cy="1380.0" r="8.9"/><circle cx="638.8" cy="1403.5" r="8.9"/><circle cx="657.1" cy="1418.6" r="8.9"/><circle cx="672.2" cy="1439.8" r="8.9"/><circle cx="686.9" cy="1457.1" r="8.9"/><circle cx="693.3" cy="1472.2" r="8.9"/><circle cx="708.0" cy="1493.5" r="8.9"/><circle cx="720.0" cy="1511.6" r="8.9"/><circle cx="729.2" cy="1521.0" r="8.9"/><circle cx="742.0" cy="1532.7" r="8.9"/><circle cx="753.1" cy="1544.5" r="8.9"/><circle cx="760.7" cy="1553.6" r="8.9"/><circle cx="766.9" cy="1556.7" r="8.9"/><circle cx="770.7" cy="1561.7" r="8.9"/><circle cx="772.5" cy="1566.4" r="8.9"/><circle cx="774.7" cy="1571.2" r="8.9"/><circle cx="777.3" cy="1574.7" r="8.9"/><circle cx="782.0" cy="1583.1" r="8.9"/><circle cx="783.8" cy="1584.9" r="8.9"/><circle cx="789.6" cy="1592.9" r="8.9"/><circle cx="793.1" cy="1594.6" r="8.9"/><circle cx="798.7" cy="1597.3" r="8.9"/><circle cx="801.9" cy="1602.7" r="8.9"/><circle cx="802.6" cy="1606.0" r="8.9"/><circle cx="808.7" cy="1611.0" r="8.9"/><circle cx="813.3" cy="1612.1" r="8.9"/><circle cx="819.9" cy="1614.6" r="8.9"/><circle cx="822.6" cy="1617.9" r="8.9"/><circle cx="1149.6" cy="1571.4" r="8.9"/><circle cx="1158.0" cy="1569.4" r="8.9"/><circle cx="1158.0" cy="1547.8" r="8.9"/><circle cx="1169.8" cy="1547.8" r="8.9"/><circle cx="1173.1" cy="1517.5" r="8.9"/><circle cx="1182.0" cy="1499.8" r="8.9"/><circle cx="1196.7" cy="1493.9" r="8.9"/><circle cx="1202.5" cy="1499.8" r="8.9"/><circle cx="1221.2" cy="1493.9" r="8.9"/><circle cx="1232.9" cy="1482.2" r="8.9"/><circle cx="1254.1" cy="1460.6" r="8.9"/><circle cx="1272.2" cy="1437.1" r="8.9"/><circle cx="1290.2" cy="1415.5" r="8.9"/><circle cx="1291.8" cy="1385.1" r="8.9"/><circle cx="1297.6" cy="1371.4" r="8.9"/><circle cx="1311.4" cy="1370.4" r="8.9"/><circle cx="1301.6" cy="1358.6" r="8.9"/><circle cx="1311.4" cy="1347.8" r="8.9"/><circle cx="1332.0" cy="1355.7" r="8.9"/><circle cx="1344.7" cy="1342.9" r="8.9"/><circle cx="1361.8" cy="1328.6" r="8.9"/><circle cx="1377.1" cy="1301.6" r="8.9"/><circle cx="1392.2" cy="1289.4" r="8.9"/><circle cx="1397.6" cy="1283.5" r="8.9"/><circle cx="1412.7" cy="1280.6" r="8.9"/><circle cx="1424.9" cy="1271.8" r="8.9"/><circle cx="1433.9" cy="1283.5" r="8.9"/><circle cx="1446.1" cy="1301.6" r="8.9"/><circle cx="1457.8" cy="1304.1" r="8.9"/><circle cx="1469.6" cy="1304.1" r="8.9"/><circle cx="1482.4" cy="1313.9" r="8.9"/><circle cx="1479.0" cy="1328.6" r="8.9"/><circle cx="1466.9" cy="1367.6" r="8.9"/><circle cx="1478.6" cy="1372.5" r="8.9"/><circle cx="1485.5" cy="1367.6" r="8.9"/><circle cx="1493.3" cy="1375.5" r="8.9"/><circle cx="1503.1" cy="1372.5" r="8.9"/><circle cx="1511.0" cy="1378.4" r="8.9"/><circle cx="1518.8" cy="1382.4" r="8.9"/><circle cx="1526.7" cy="1385.3" r="8.9"/><circle cx="1516.9" cy="1392.2" r="8.9"/><circle cx="1522.7" cy="1396.1" r="8.9"/><circle cx="1473.7" cy="1370.6" r="8.9"/><circle cx="1489.4" cy="1373.5" r="8.9"/><circle cx="1499.2" cy="1376.5" r="8.9"/><circle cx="1514.9" cy="1388.2" r="8.9"/><circle cx="1521.8" cy="1389.2" r="8.9"/><circle cx="1854.3" cy="1389.0" r="8.9"/><circle cx="1862.5" cy="1374.3" r="8.9"/><circle cx="1862.5" cy="1358.6" r="8.9"/><circle cx="1874.3" cy="1349.8" r="8.9"/><circle cx="1878.2" cy="1347.8" r="8.9"/><circle cx="1888.0" cy="1340.0" r="8.9"/><circle cx="1977.3" cy="1342.0" r="8.9"/><circle cx="1997.8" cy="1346.9" r="8.9"/><circle cx="1902.0" cy="1325.7" r="8.9"/><circle cx="1907.8" cy="1307.6" r="8.9"/><circle cx="1925.9" cy="1289.4" r="8.9"/><circle cx="1937.8" cy="1322.7" r="8.9"/><circle cx="1956.9" cy="1334.5" r="8.9"/><circle cx="1994.1" cy="1331.6" r="8.9"/><circle cx="2003.9" cy="1328.6" r="8.9"/><circle cx="2012.7" cy="1312.0" r="8.9"/><circle cx="2015.7" cy="1286.5" r="8.9"/><circle cx="2006.9" cy="1254.1" r="8.9"/><circle cx="2012.7" cy="1238.4" r="8.9"/><circle cx="2019.0" cy="1214.9" r="8.9"/><circle cx="2036.9" cy="1202.7" r="8.9"/><circle cx="2049.0" cy="1190.8" r="8.9"/><circle cx="2048.6" cy="1166.9" r="8.9"/><circle cx="2066.7" cy="1163.9" r="8.9"/><circle cx="2081.8" cy="1169.8" r="8.9"/><circle cx="2097.1" cy="1163.9" r="8.9"/><circle cx="2102.9" cy="1155.1" r="8.9"/><circle cx="2118.0" cy="1136.5" r="8.9"/><circle cx="2130.4" cy="1124.7" r="8.9"/><circle cx="2139.2" cy="1107.1" r="8.9"/><circle cx="2151.0" cy="1076.7" r="8.9"/><circle cx="2162.7" cy="1062.9" r="8.9"/><circle cx="2173.8" cy="1046.1" r="8.9"/><circle cx="2186.5" cy="1028.4" r="8.9"/><circle cx="2183.0" cy="1010.8" r="8.9"/><circle cx="2170.9" cy="984.3" r="8.9"/><circle cx="2183.0" cy="972.5" r="8.9"/><circle cx="2188.9" cy="966.7" r="8.9"/><circle cx="2191.5" cy="954.9" r="8.9"/><circle cx="2197.3" cy="949.0" r="8.9"/><circle cx="2203.2" cy="941.2" r="8.9"/><circle cx="2210.1" cy="933.3" r="8.9"/><circle cx="2213.0" cy="927.5" r="8.9"/><circle cx="2220.9" cy="921.6" r="8.9"/><circle cx="2224.8" cy="913.7" r="8.9"/><circle cx="2228.7" cy="909.8" r="8.9"/><circle cx="2234.6" cy="906.9" r="8.9"/><circle cx="2230.7" cy="902.0" r="8.9"/><circle cx="2224.8" cy="902.0" r="8.9"/></g>
<g fill="#e63c6e" fill-opacity="0.5" stroke="#e63c6e" stroke-width="3.1"><circle cx="312.0" cy="770.8" r="8.9"/><circle cx="323.5" cy="708.0" r="8.9"/><circle cx="335.9" cy="693.3" r="8.9"/><circle cx="347.6" cy="693.3" r="8.9"/><circle cx="350.6" cy="696.3" r="8.9"/><circle cx="339.8" cy="706.1" r="8.9"/><circle cx="352.5" cy="711.0" r="8.9"/><circle cx="357.5" cy="712.9" r="8.9"/><circle cx="366.3" cy="713.9" r="8.9"/><circle cx="353.5" cy="722.7" r="8.9"/><circle cx="372.2" cy="724.7" r="8.9"/><circle cx="378.0" cy="731.6" r="8.9"/><circle cx="366.3" cy="740.8" r="8.9"/><circle cx="378.0" cy="744.3" r="8.9"/><circle cx="378.0" cy="749.2" r="8.9"/><circle cx="381.0" cy="762.0" r="8.9"/><circle cx="368.6" cy="776.7" r="8.9"/><circle cx="378.0" cy="791.8" r="8.9"/><circle cx="392.7" cy="836.5" r="8.9"/><circle cx="395.7" cy="842.4" r="8.9"/><circle cx="392.7" cy="858.0" r="8.9"/><circle cx="387.5" cy="863.9" r="8.9"/><circle cx="391.8" cy="862.0" r="8.9"/><circle cx="399.0" cy="875.7" r="8.9"/><circle cx="330.0" cy="902.7" r="8.9"/><circle cx="332.9" cy="935.5" r="8.9"/><circle cx="410.8" cy="914.9" r="8.9"/><circle cx="425.7" cy="932.5" r="8.9"/><circle cx="425.1" cy="950.2" r="8.9"/><circle cx="423.1" cy="962.7" r="8.9"/><circle cx="428.0" cy="963.7" r="8.9"/><circle cx="431.4" cy="965.7" r="8.9"/><circle cx="435.9" cy="973.5" r="8.9"/><circle cx="437.8" cy="981.4" r="8.9"/><circle cx="450.0" cy="1004.9" r="8.9"/><circle cx="458.8" cy="1031.8" r="8.9"/><circle cx="470.8" cy="1055.9" r="8.9"/><circle cx="480.0" cy="1076.5" r="8.9"/><circle cx="482.9" cy="1084.3" r="8.9"/><circle cx="486.9" cy="1087.3" r="8.9"/><circle cx="483.9" cy="1089.2" r="8.9"/><circle cx="497.6" cy="1088.2" r="8.9"/><circle cx="509.4" cy="1089.2" r="8.9"/><circle cx="521.6" cy="1091.8" r="8.9"/><circle cx="531.0" cy="1101.0" r="8.9"/><circle cx="545.7" cy="1128.0" r="8.9"/><circle cx="560.8" cy="1152.0" r="8.9"/><circle cx="572.7" cy="1178.4" r="8.9"/><circle cx="584.9" cy="1199.0" r="8.9"/><circle cx="593.9" cy="1214.9" r="8.9"/><circle cx="602.7" cy="1229.4" r="8.9"/><circle cx="621.2" cy="1247.6" r="8.9"/><circle cx="632.9" cy="1271.6" r="8.9"/><circle cx="1050.0" cy="1418.8" r="8.9"/><circle cx="1038.0" cy="1484.7" r="8.9"/><circle cx="1034.9" cy="1535.5" r="8.9"/><circle cx="1016.9" cy="1586.7" r="8.9"/><circle cx="1028.6" cy="1619.4" r="8.9"/><circle cx="1040.8" cy="1610.6" r="8.9"/><circle cx="1040.8" cy="1625.3" r="8.9"/><circle cx="1048.6" cy="1622.4" r="8.9"/><circle cx="1053.5" cy="1614.5" r="8.9"/><circle cx="1058.4" cy="1610.6" r="8.9"/><circle cx="1058.4" cy="1620.4" r="8.9"/><circle cx="1064.3" cy="1612.5" r="8.9"/><circle cx="1071.2" cy="1613.5" r="8.9"/><circle cx="1058.4" cy="1589.0" r="8.9"/><circle cx="1078.0" cy="1592.9" r="8.9"/><circle cx="1082.9" cy="1585.1" r="8.9"/><circle cx="1072.2" cy="1574.3" r="8.9"/><circle cx="1082.9" cy="1571.4" r="8.9"/><circle cx="1082.9" cy="1568.4" r="8.9"/><circle cx="1085.9" cy="1560.6" r="8.9"/><circle cx="1072.2" cy="1547.5" r="8.9"/><circle cx="1082.9" cy="1544.9" r="8.9"/><circle cx="1098.6" cy="1517.5" r="8.9"/><circle cx="1099.6" cy="1512.5" r="8.9"/><circle cx="1092.7" cy="1506.7" r="8.9"/><circle cx="1095.7" cy="1505.7" r="8.9"/><circle cx="1104.5" cy="1502.7" r="8.9"/><circle cx="1115.9" cy="1487.5" r="8.9"/><circle cx="1131.0" cy="1475.3" r="8.9"/><circle cx="1129.0" cy="1465.5" r="8.9"/><circle cx="1134.9" cy="1463.5" r="8.9"/><circle cx="1136.9" cy="1457.6" r="8.9"/><circle cx="1142.7" cy="1463.5" r="8.9"/><circle cx="1154.5" cy="1457.6" r="8.9"/><circle cx="1163.9" cy="1451.8" r="8.9"/><circle cx="1176.1" cy="1451.8" r="8.9"/><circle cx="1185.9" cy="1442.0" r="8.9"/><circle cx="1189.8" cy="1440.0" r="8.9"/><circle cx="1193.7" cy="1443.9" r="8.9"/><circle cx="1202.5" cy="1448.8" r="8.9"/><circle cx="1214.9" cy="1448.8" r="8.9"/><circle cx="1226.7" cy="1460.6" r="8.9"/><circle cx="1235.9" cy="1457.6" r="8.9"/><circle cx="1251.6" cy="1448.8" r="8.9"/><circle cx="1266.3" cy="1434.1" r="8.9"/><circle cx="1278.0" cy="1415.5" r="8.9"/><circle cx="1290.2" cy="1397.8" r="8.9"/><circle cx="1299.6" cy="1392.0" r="8.9"/><circle cx="1307.5" cy="1386.1" r="8.9"/><circle cx="1326.1" cy="1373.7" r="8.9"/><circle cx="1338.2" cy="1365.5" r="8.9"/><circle cx="1740.0" cy="1473.3" r="8.9"/><circle cx="1742.9" cy="1491.0" r="8.9"/><circle cx="1754.7" cy="1517.8" r="8.9"/><circle cx="1722.0" cy="1553.7" r="8.9"/><circle cx="1733.5" cy="1584.1" r="8.9"/><circle cx="1745.9" cy="1596.9" r="8.9"/><circle cx="1745.9" cy="1604.7" r="8.9"/><circle cx="1750.8" cy="1584.1" r="8.9"/><circle cx="1757.6" cy="1604.7" r="8.9"/><circle cx="1760.6" cy="1596.9" r="8.9"/><circle cx="1763.5" cy="1585.1" r="8.9"/><circle cx="1768.4" cy="1589.0" r="8.9"/><circle cx="1774.3" cy="1585.1" r="8.9"/><circle cx="1778.2" cy="1591.0" r="8.9"/><circle cx="1782.2" cy="1594.9" r="8.9"/><circle cx="1788.0" cy="1592.9" r="8.9"/><circle cx="1791.0" cy="1592.0" r="8.9"/><circle cx="1776.3" cy="1585.1" r="8.9"/><circle cx="1788.0" cy="1574.3" r="8.9"/><circle cx="1803.7" cy="1555.7" r="8.9"/><circle cx="1804.7" cy="1551.8" r="8.9"/><circle cx="1801.8" cy="1545.9" r="8.9"/><circle cx="1796.9" cy="1542.0" r="8.9"/><circle cx="1809.0" cy="1534.1" r="8.9"/><circle cx="1820.8" cy="1511.6" r="8.9"/><circle cx="1836.1" cy="1502.7" r="8.9"/><circle cx="1836.1" cy="1496.9" r="8.9"/><circle cx="1841.0" cy="1489.0" r="8.9"/><circle cx="1843.9" cy="1485.1" r="8.9"/><circle cx="1839.0" cy="1481.2" r="8.9"/><circle cx="1832.7" cy="1482.2" r="8.9"/><circle cx="1839.0" cy="1475.3" r="8.9"/><circle cx="1847.8" cy="1467.5" r="8.9"/><circle cx="1860.2" cy="1448.8" r="8.9"/><circle cx="1869.0" cy="1427.6" r="8.9"/><circle cx="1881.2" cy="1406.7" r="8.9"/><circle cx="1890.0" cy="1392.0" r="8.9"/><circle cx="1893.9" cy="1384.1" r="8.9"/><circle cx="1897.8" cy="1379.2" r="8.9"/><circle cx="1892.9" cy="1382.2" r="8.9"/><circle cx="1906.7" cy="1374.3" r="8.9"/><circle cx="1920.4" cy="1371.4" r="8.9"/><circle cx="1932.2" cy="1359.6" r="8.9"/><circle cx="1941.0" cy="1352.7" r="8.9"/><circle cx="1956.7" cy="1342.0" r="8.9"/><circle cx="1970.6" cy="1325.7" r="8.9"/><circle cx="1982.7" cy="1316.9" r="8.9"/><circle cx="1995.1" cy="1313.9" r="8.9"/><circle cx="2003.9" cy="1303.1" r="8.9"/><circle cx="2012.7" cy="1295.3" r="8.9"/><circle cx="2031.0" cy="1289.4" r="8.9"/><circle cx="2043.1" cy="1274.7" r="8.9"/><circle cx="344.7" cy="699.2" r="8.9"/><circle cx="348.6" cy="705.5" r="8.9"/><circle cx="355.5" cy="709.0" r="8.9"/><circle cx="360.8" cy="711.4" r="8.9"/><circle cx="362.4" cy="716.5" r="8.9"/><circle cx="369.2" cy="718.8" r="8.9"/><circle cx="356.9" cy="718.0" r="8.9"/><circle cx="374.5" cy="728.0" r="8.9"/><circle cx="376.9" cy="738.4" r="8.9"/><circle cx="379.2" cy="746.7" r="8.9"/><circle cx="342.4" cy="696.3" r="8.9"/><circle cx="338.8" cy="699.2" r="8.9"/><circle cx="344.7" cy="971.6" r="8.9"/><circle cx="1132.0" cy="1460.6" r="8.9"/><circle cx="1126.1" cy="1467.5" r="8.9"/><circle cx="1139.2" cy="1465.5" r="8.9"/><circle cx="1187.8" cy="1444.9" r="8.9"/><circle cx="1095.7" cy="1509.6" r="8.9"/><circle cx="1101.6" cy="1515.5" r="8.9"/><circle cx="1051.6" cy="1617.5" r="8.9"/><circle cx="1061.4" cy="1615.5" r="8.9"/><circle cx="1044.7" cy="1618.4" r="8.9"/><circle cx="1068.2" cy="1610.6" r="8.9"/><circle cx="1079.0" cy="1565.5" r="8.9"/><circle cx="1766.5" cy="1592.9" r="8.9"/><circle cx="1771.4" cy="1594.9" r="8.9"/><circle cx="1776.3" cy="1593.9" r="8.9"/><circle cx="1781.2" cy="1589.0" r="8.9"/><circle cx="1784.1" cy="1596.9" r="8.9"/><circle cx="1772.4" cy="1587.1" r="8.9"/><circle cx="1758.6" cy="1591.0" r="8.9"/><circle cx="1754.7" cy="1594.9" r="8.9"/><circle cx="1786.1" cy="1589.0" r="8.9"/><circle cx="1789.0" cy="1595.9" r="8.9"/><circle cx="1841.0" cy="1482.2" r="8.9"/><circle cx="1836.1" cy="1491.0" r="8.9"/><circle cx="1799.8" cy="1548.8" r="8.9"/></g>
<text y="205.5" font-size="90.0" fill="#333333" font-weight="bold" font-family="'Liberation Serif', serif"><tspan x="115.2" textLength="119.3" lengthAdjust="spacingAndGlyphs">All</tspan> <tspan x="256.7" textLength="397.3" lengthAdjust="spacingAndGlyphs">developed</tspan> <tspan x="676.8" textLength="404.6" lengthAdjust="spacingAndGlyphs">economies</tspan> <tspan x="1104.4" textLength="292.1" lengthAdjust="spacingAndGlyphs">become</tspan> <tspan x="1419.5" textLength="515.2" lengthAdjust="spacingAndGlyphs">service-based</tspan></text>
<text y="282.0" font-size="40.5" fill="#333333" font-family="'Liberation Sans', sans-serif"><tspan x="113.5" textLength="118.0" lengthAdjust="spacingAndGlyphs">Sector</tspan> <tspan x="241.9" textLength="234.1" lengthAdjust="spacingAndGlyphs">employment</tspan> <tspan x="487.9" textLength="99.6" lengthAdjust="spacingAndGlyphs">share</tspan> <tspan x="598.6" textLength="41.8" lengthAdjust="spacingAndGlyphs">by</tspan> <tspan x="653.8" textLength="84.5" lengthAdjust="spacingAndGlyphs">total</tspan> <tspan x="751.1" textLength="124.5" lengthAdjust="spacingAndGlyphs">output</tspan> <tspan x="888.8" textLength="57.8" lengthAdjust="spacingAndGlyphs">per</tspan> <tspan x="961.3" textLength="125.1" lengthAdjust="spacingAndGlyphs">worker</tspan> <tspan x="1099.1" textLength="104.2" lengthAdjust="spacingAndGlyphs">(2017</tspan> <tspan x="1212.4" textLength="96.4" lengthAdjust="spacingAndGlyphs">USD)</tspan> <tspan x="1318.8" textLength="35.0" lengthAdjust="spacingAndGlyphs">in</tspan> <tspan x="1368.8" textLength="41.2" lengthAdjust="spacingAndGlyphs">10</tspan> <tspan x="1421.5" textLength="194.4" lengthAdjust="spacingAndGlyphs">developed</tspan> <tspan x="1627.6" textLength="169.4" lengthAdjust="spacingAndGlyphs">countries</tspan> <tspan x="1808.8" textLength="69.4" lengthAdjust="spacingAndGlyphs">and</tspan> <tspan x="1889.8" textLength="103.7" lengthAdjust="spacingAndGlyphs">China</tspan></text>
<text x="571.7" y="398.5" font-size="46.5" fill="#333333" text-anchor="middle" font-weight="bold" font-family="'Liberation Sans', sans-serif" textLength="243.0" lengthAdjust="spacingAndGlyphs">Agriculture</text>
<text x="1276.8" y="398.5" font-size="46.5" fill="#333333" text-anchor="middle" font-weight="bold" font-family="'Liberation Sans', sans-serif" textLength="325.0" lengthAdjust="spacingAndGlyphs">Manufacturing</text>
<text x="1981.4" y="398.5" font-size="46.5" fill="#333333" text-anchor="middle" font-weight="bold" font-family="'Liberation Sans', sans-serif" textLength="178.0" lengthAdjust="spacingAndGlyphs">Services</text>
<text x="114.5" y="490.7" font-size="35.0" fill="#777777" text-anchor="start" font-weight="normal" font-family="'Liberation Sans', sans-serif" textLength="392.0" lengthAdjust="spacingAndGlyphs">100% employment share</text>
<text x="114.5" y="730.9" font-size="34.5" fill="#777777" text-anchor="start" font-weight="normal" font-family="'Liberation Sans', sans-serif">80%</text>
<text x="114.5" y="970.9" font-size="34.5" fill="#777777" text-anchor="start" font-weight="normal" font-family="'Liberation Sans', sans-serif">60%</text>
<text x="114.5" y="1210.9" font-size="34.5" fill="#777777" text-anchor="start" font-weight="normal" font-family="'Liberation Sans', sans-serif">40%</text>
<text x="114.5" y="1450.9" font-size="34.5" fill="#777777" text-anchor="start" font-weight="normal" font-family="'Liberation Sans', sans-serif">20%</text>
<text x="114.5" y="1690.9" font-size="34.5" fill="#777777" text-anchor="start" font-weight="normal" font-family="'Liberation Sans', sans-serif">0%</text>
<text x="349.5" y="1756.3" font-size="34.5" fill="#777777" text-anchor="middle" font-weight="normal" font-family="'Liberation Sans', sans-serif">2.5k</text>
<text x="445.5" y="1756.3" font-size="34.5" fill="#777777" text-anchor="middle" font-weight="normal" font-family="'Liberation Sans', sans-serif">5.0k</text>
<text x="544.5" y="1756.3" font-size="34.5" fill="#777777" text-anchor="middle" font-weight="normal" font-family="'Liberation Sans', sans-serif">10k</text>
<text x="640.5" y="1756.3" font-size="34.5" fill="#777777" text-anchor="middle" font-weight="normal" font-family="'Liberation Sans', sans-serif">20k</text>
<text x="736.5" y="1756.3" font-size="34.5" fill="#777777" text-anchor="middle" font-weight="normal" font-family="'Liberation Sans', sans-serif">40k</text>
<text x="835.5" y="1756.3" font-size="34.5" fill="#777777" text-anchor="middle" font-weight="normal" font-family="'Liberation Sans', sans-serif">80k</text>
<text x="571.7" y="1811.5" font-size="35.0" fill="#777777" text-anchor="middle" font-weight="normal" font-family="'Liberation Sans', sans-serif" textLength="294.0" lengthAdjust="spacingAndGlyphs">Output per worker</text>
<text x="1054.5" y="1756.3" font-size="34.5" fill="#777777" text-anchor="middle" font-weight="normal" font-family="'Liberation Sans', sans-serif">2.5k</text>
<text x="1150.5" y="1756.3" font-size="34.5" fill="#777777" text-anchor="middle" font-weight="normal" font-family="'Liberation Sans', sans-serif">5.0k</text>
<text x="1249.5" y="1756.3" font-size="34.5" fill="#777777" text-anchor="middle" font-weight="normal" font-family="'Liberation Sans', sans-serif">10k</text>
<text x="1345.5" y="1756.3" font-size="34.5" fill="#777777" text-anchor="middle" font-weight="normal" font-family="'Liberation Sans', sans-serif">20k</text>
<text x="1441.5" y="1756.3" font-size="34.5" fill="#777777" text-anchor="middle" font-weight="normal" font-family="'Liberation Sans', sans-serif">40k</text>
<text x="1540.5" y="1756.3" font-size="34.5" fill="#777777" text-anchor="middle" font-weight="normal" font-family="'Liberation Sans', sans-serif">80k</text>
<text x="1276.8" y="1811.5" font-size="35.0" fill="#777777" text-anchor="middle" font-weight="normal" font-family="'Liberation Sans', sans-serif" textLength="294.0" lengthAdjust="spacingAndGlyphs">Output per worker</text>
<text x="1759.5" y="1756.3" font-size="34.5" fill="#777777" text-anchor="middle" font-weight="normal" font-family="'Liberation Sans', sans-serif">2.5k</text>
<text x="1855.5" y="1756.3" font-size="34.5" fill="#777777" text-anchor="middle" font-weight="normal" font-family="'Liberation Sans', sans-serif">5.0k</text>
<text x="1954.5" y="1756.3" font-size="34.5" fill="#777777" text-anchor="middle" font-weight="normal" font-family="'Liberation Sans', sans-serif">10k</text>
<text x="2050.5" y="1756.3" font-size="34.5" fill="#777777" text-anchor="middle" font-weight="normal" font-family="'Liberation Sans', sans-serif">20k</text>
<text x="2146.5" y="1756.3" font-size="34.5" fill="#777777" text-anchor="middle" font-weight="normal" font-family="'Liberation Sans', sans-serif">40k</text>
<text x="2245.5" y="1756.3" font-size="34.5" fill="#777777" text-anchor="middle" font-weight="normal" font-family="'Liberation Sans', sans-serif">80k</text>
<text x="1981.8" y="1811.5" font-size="35.0" fill="#777777" text-anchor="middle" font-weight="normal" font-family="'Liberation Sans', sans-serif" textLength="294.0" lengthAdjust="spacingAndGlyphs">Output per worker</text>
<text y="1913.8" font-size="35.0" fill="#777777" font-family="'Liberation Sans', sans-serif"><tspan x="113.6" textLength="85.1" lengthAdjust="spacingAndGlyphs">Chart</tspan> <tspan x="209.8" textLength="35.2" lengthAdjust="spacingAndGlyphs">by</tspan> <tspan x="257.0" textLength="91.4" lengthAdjust="spacingAndGlyphs">David</tspan> <tspan x="360.2" textLength="140.6" lengthAdjust="spacingAndGlyphs">Waldron,</tspan> <tspan x="511.4" textLength="191.7" lengthAdjust="spacingAndGlyphs">waldrn.com.</tspan> <tspan x="711.6" textLength="127.9" lengthAdjust="spacingAndGlyphs">Inspired</tspan> <tspan x="849.1" textLength="36.1" lengthAdjust="spacingAndGlyphs">by</tspan> <tspan x="897.9" textLength="219.0" lengthAdjust="spacingAndGlyphs">"Tertiarization</tspan> <tspan x="1125.4" textLength="62.3" lengthAdjust="spacingAndGlyphs">Like</tspan> <tspan x="1197.3" textLength="103.4" lengthAdjust="spacingAndGlyphs">China"</tspan> <tspan x="1311.9" textLength="35.6" lengthAdjust="spacingAndGlyphs">by</tspan> <tspan x="1359.9" textLength="83.5" lengthAdjust="spacingAndGlyphs">Chen</tspan> <tspan x="1451.5" textLength="41.3" lengthAdjust="spacingAndGlyphs">et.</tspan> <tspan x="1499.5" textLength="37.3" lengthAdjust="spacingAndGlyphs">al.</tspan> <tspan x="1545.1" textLength="99.6" lengthAdjust="spacingAndGlyphs">(2023)</tspan></text>
<text y="1967.0" font-size="35.0" fill="#777777" font-family="'Liberation Sans', sans-serif"><tspan x="113.5" textLength="82.9" lengthAdjust="spacingAndGlyphs">Data:</tspan> <tspan x="205.6" textLength="97.5" lengthAdjust="spacingAndGlyphs">GGDC</tspan> <tspan x="313.1" textLength="151.5" lengthAdjust="spacingAndGlyphs">10-Sector</tspan> <tspan x="475.1" textLength="157.8" lengthAdjust="spacingAndGlyphs">Database,</tspan> <tspan x="640.5" textLength="79.7" lengthAdjust="spacingAndGlyphs">Penn</tspan> <tspan x="730.9" textLength="94.7" lengthAdjust="spacingAndGlyphs">World</tspan> <tspan x="834.5" textLength="92.7" lengthAdjust="spacingAndGlyphs">Table,</tspan> <tspan x="933.9" textLength="160.3" lengthAdjust="spacingAndGlyphs">Maddison</tspan> <tspan x="1103.1" textLength="108.1" lengthAdjust="spacingAndGlyphs">Project</tspan> <tspan x="1222.5" textLength="157.6" lengthAdjust="spacingAndGlyphs">Database,</tspan> <tspan x="1387.3" textLength="127.4" lengthAdjust="spacingAndGlyphs">Mitchell</tspan> <tspan x="1523.9" textLength="58.7" lengthAdjust="spacingAndGlyphs">B.R.</tspan> <tspan x="1592.1" textLength="99.7" lengthAdjust="spacingAndGlyphs">(1992)</tspan></text>
<text x="258.3" y="1044.0" font-size="40.6" fill="#e63c6e" text-anchor="start" font-weight="bold" font-family="'Liberation Sans', sans-serif" textLength="110.0" lengthAdjust="spacingAndGlyphs" stroke="#fff" stroke-width="11" stroke-linejoin="round" paint-order="stroke">China</text>
<text x="451.5" y="1403.6" font-size="40.6" fill="#e69d33" text-anchor="start" font-weight="bold" font-family="'Liberation Sans', sans-serif" textLength="117.4" lengthAdjust="spacingAndGlyphs" stroke="#fff" stroke-width="11" stroke-linejoin="round" paint-order="stroke">South</text>
<text x="453.1" y="1463.7" font-size="40.6" fill="#e69d33" text-anchor="start" font-weight="bold" font-family="'Liberation Sans', sans-serif" textLength="112.3" lengthAdjust="spacingAndGlyphs" stroke="#fff" stroke-width="11" stroke-linejoin="round" paint-order="stroke">Korea</text>
<text x="792.0" y="1487.0" font-size="40.6" fill="#3190d3" text-anchor="start" font-weight="bold" font-family="'Liberation Sans', sans-serif" textLength="84.6" lengthAdjust="spacingAndGlyphs" stroke="#fff" stroke-width="11" stroke-linejoin="round" paint-order="stroke">USA</text>
<text x="1668.9" y="1404.0" font-size="40.6" fill="#e63c6e" text-anchor="start" font-weight="bold" font-family="'Liberation Sans', sans-serif" textLength="110.0" lengthAdjust="spacingAndGlyphs" stroke="#fff" stroke-width="11" stroke-linejoin="round" paint-order="stroke">China</text>
<text x="1948.2" y="984.0" font-size="40.6" fill="#e69d33" text-anchor="start" font-weight="bold" font-family="'Liberation Sans', sans-serif" textLength="117.4" lengthAdjust="spacingAndGlyphs" stroke="#fff" stroke-width="11" stroke-linejoin="round" paint-order="stroke">South</text>
<text x="1950.0" y="1043.9" font-size="40.6" fill="#e69d33" text-anchor="start" font-weight="bold" font-family="'Liberation Sans', sans-serif" textLength="112.3" lengthAdjust="spacingAndGlyphs" stroke="#fff" stroke-width="11" stroke-linejoin="round" paint-order="stroke">Korea</text>
<text x="2136.0" y="683.9" font-size="40.6" fill="#3190d3" text-anchor="start" font-weight="bold" font-family="'Liberation Sans', sans-serif" textLength="84.6" lengthAdjust="spacingAndGlyphs" stroke="#fff" stroke-width="11" stroke-linejoin="round" paint-order="stroke">USA</text>
</svg></body></html>
